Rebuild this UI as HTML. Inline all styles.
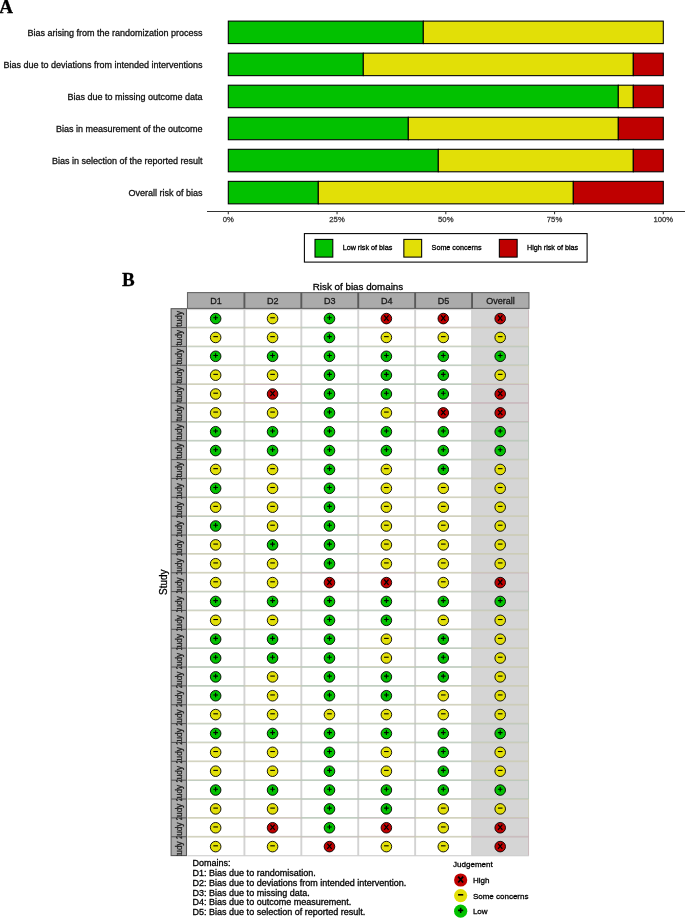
<!DOCTYPE html>
<html><head><meta charset="utf-8"><title>Risk of bias</title>
<style>html,body{margin:0;padding:0;background:#fff;}body{width:685px;height:919px;overflow:hidden;font-family:"Liberation Sans",sans-serif;}svg{display:block;will-change:transform;}</style>
</head><body>
<svg width="685" height="919" viewBox="0 0 685 919"><text x="-0.7" y="13.1" font-family="Liberation Serif, serif" font-weight="bold" font-size="19" fill="#000" stroke="#000" stroke-width="0.3">A</text>
<text x="202.6" y="35.75" font-family="Liberation Sans, sans-serif" font-size="9" fill="#111" stroke="#111" stroke-width="0.3" text-anchor="end">Bias arising from the randomization process</text>
<rect x="228.30" y="21.10" width="195.00" height="22.50" fill="#02C100" stroke="#000" stroke-width="1.07"/>
<rect x="423.30" y="21.10" width="240.00" height="22.50" fill="#E2DF07" stroke="#000" stroke-width="1.07"/>
<text x="202.6" y="67.80" font-family="Liberation Sans, sans-serif" font-size="9" fill="#111" stroke="#111" stroke-width="0.3" text-anchor="end">Bias due to deviations from intended interventions</text>
<rect x="228.30" y="53.15" width="135.00" height="22.50" fill="#02C100" stroke="#000" stroke-width="1.07"/>
<rect x="363.30" y="53.15" width="270.00" height="22.50" fill="#E2DF07" stroke="#000" stroke-width="1.07"/>
<rect x="633.30" y="53.15" width="30.00" height="22.50" fill="#BF0000" stroke="#000" stroke-width="1.07"/>
<text x="202.6" y="99.85" font-family="Liberation Sans, sans-serif" font-size="9" fill="#111" stroke="#111" stroke-width="0.3" text-anchor="end">Bias due to missing outcome data</text>
<rect x="228.30" y="85.20" width="390.00" height="22.50" fill="#02C100" stroke="#000" stroke-width="1.07"/>
<rect x="618.30" y="85.20" width="15.00" height="22.50" fill="#E2DF07" stroke="#000" stroke-width="1.07"/>
<rect x="633.30" y="85.20" width="30.00" height="22.50" fill="#BF0000" stroke="#000" stroke-width="1.07"/>
<text x="202.6" y="131.90" font-family="Liberation Sans, sans-serif" font-size="9" fill="#111" stroke="#111" stroke-width="0.3" text-anchor="end">Bias in measurement of the outcome</text>
<rect x="228.30" y="117.25" width="180.00" height="22.50" fill="#02C100" stroke="#000" stroke-width="1.07"/>
<rect x="408.30" y="117.25" width="210.00" height="22.50" fill="#E2DF07" stroke="#000" stroke-width="1.07"/>
<rect x="618.30" y="117.25" width="45.00" height="22.50" fill="#BF0000" stroke="#000" stroke-width="1.07"/>
<text x="202.6" y="163.95" font-family="Liberation Sans, sans-serif" font-size="9" fill="#111" stroke="#111" stroke-width="0.3" text-anchor="end">Bias in selection of the reported result</text>
<rect x="228.30" y="149.30" width="210.00" height="22.50" fill="#02C100" stroke="#000" stroke-width="1.07"/>
<rect x="438.30" y="149.30" width="195.00" height="22.50" fill="#E2DF07" stroke="#000" stroke-width="1.07"/>
<rect x="633.30" y="149.30" width="30.00" height="22.50" fill="#BF0000" stroke="#000" stroke-width="1.07"/>
<text x="202.6" y="196.00" font-family="Liberation Sans, sans-serif" font-size="9" fill="#111" stroke="#111" stroke-width="0.3" text-anchor="end">Overall risk of bias</text>
<rect x="228.30" y="181.35" width="90.00" height="22.50" fill="#02C100" stroke="#000" stroke-width="1.07"/>
<rect x="318.30" y="181.35" width="255.00" height="22.50" fill="#E2DF07" stroke="#000" stroke-width="1.07"/>
<rect x="573.30" y="181.35" width="90.00" height="22.50" fill="#BF0000" stroke="#000" stroke-width="1.07"/>
<line x1="207" y1="211.5" x2="685" y2="211.5" stroke="#333" stroke-width="1.07"/>
<line x1="228.30" y1="211.5" x2="228.30" y2="214.2" stroke="#333" stroke-width="1.07"/>
<text x="228.30" y="222" font-family="Liberation Sans, sans-serif" font-size="7.7" fill="#3a3a3a" stroke="#3a3a3a" stroke-width="0.3" text-anchor="middle">0%</text>
<line x1="337.05" y1="211.5" x2="337.05" y2="214.2" stroke="#333" stroke-width="1.07"/>
<text x="337.05" y="222" font-family="Liberation Sans, sans-serif" font-size="7.7" fill="#3a3a3a" stroke="#3a3a3a" stroke-width="0.3" text-anchor="middle">25%</text>
<line x1="445.80" y1="211.5" x2="445.80" y2="214.2" stroke="#333" stroke-width="1.07"/>
<text x="445.80" y="222" font-family="Liberation Sans, sans-serif" font-size="7.7" fill="#3a3a3a" stroke="#3a3a3a" stroke-width="0.3" text-anchor="middle">50%</text>
<line x1="554.55" y1="211.5" x2="554.55" y2="214.2" stroke="#333" stroke-width="1.07"/>
<text x="554.55" y="222" font-family="Liberation Sans, sans-serif" font-size="7.7" fill="#3a3a3a" stroke="#3a3a3a" stroke-width="0.3" text-anchor="middle">75%</text>
<line x1="663.30" y1="211.5" x2="663.30" y2="214.2" stroke="#333" stroke-width="1.07"/>
<text x="663.30" y="222" font-family="Liberation Sans, sans-serif" font-size="7.7" fill="#3a3a3a" stroke="#3a3a3a" stroke-width="0.3" text-anchor="middle">100%</text>
<rect x="304.4" y="233.6" width="282.7" height="28.5" fill="#fff" stroke="#000" stroke-width="1.07"/>
<rect x="315.0" y="239.4" width="17.8" height="17.7" fill="#02C100" stroke="#000" stroke-width="1.07"/>
<text x="342.7" y="250.2" font-family="Liberation Sans, sans-serif" font-size="7.2" fill="#000" stroke="#000" stroke-width="0.3">Low risk of bias</text>
<rect x="403.85" y="239.4" width="17.8" height="17.7" fill="#E2DF07" stroke="#000" stroke-width="1.07"/>
<text x="431.6" y="250.2" font-family="Liberation Sans, sans-serif" font-size="7.2" fill="#000" stroke="#000" stroke-width="0.3">Some concerns</text>
<rect x="499.35" y="239.4" width="17.8" height="17.7" fill="#BF0000" stroke="#000" stroke-width="1.07"/>
<text x="527.0" y="250.2" font-family="Liberation Sans, sans-serif" font-size="7.2" fill="#000" stroke="#000" stroke-width="0.3">High risk of bias</text>
<text x="122" y="286" font-family="Liberation Serif, serif" font-weight="bold" font-size="19" fill="#000" stroke="#000" stroke-width="0.3">B</text>
<text x="358" y="289.8" font-family="Liberation Sans, sans-serif" font-size="9.8" fill="#000" stroke="#000" stroke-width="0.3" text-anchor="middle">Risk of bias domains</text>
<rect x="187.5" y="308.7" width="284.55" height="546.90" fill="#fff"/>
<rect x="472.05" y="308.7" width="56.91" height="546.90" fill="#d5d5d5"/>
<line x1="244.41" y1="308.7" x2="244.41" y2="855.60" stroke="#d3d3d3" stroke-width="1.9"/>
<line x1="301.32" y1="308.7" x2="301.32" y2="855.60" stroke="#d3d3d3" stroke-width="1.9"/>
<line x1="358.23" y1="308.7" x2="358.23" y2="855.60" stroke="#d3d3d3" stroke-width="1.9"/>
<line x1="415.14" y1="308.7" x2="415.14" y2="855.60" stroke="#d3d3d3" stroke-width="1.9"/>
<line x1="472.05" y1="308.7" x2="472.05" y2="855.60" stroke="#d3d3d3" stroke-width="1.9"/>
<line x1="187.50" y1="327.21" x2="244.41" y2="327.21" stroke="#b8c6b8" stroke-width="0.85"/>
<line x1="244.41" y1="327.21" x2="301.32" y2="327.21" stroke="#cbcbb4" stroke-width="0.85"/>
<line x1="301.32" y1="327.21" x2="358.23" y2="327.21" stroke="#b8c6b8" stroke-width="0.85"/>
<line x1="358.23" y1="327.21" x2="415.14" y2="327.21" stroke="#c9b7ba" stroke-width="0.85"/>
<line x1="415.14" y1="327.21" x2="472.05" y2="327.21" stroke="#c9b7ba" stroke-width="0.85"/>
<line x1="472.05" y1="327.21" x2="528.96" y2="327.21" stroke="#c9b7ba" stroke-width="0.85"/>
<line x1="187.50" y1="327.91" x2="244.41" y2="327.91" stroke="#cbcbb4" stroke-width="0.85"/>
<line x1="187.50" y1="346.07" x2="244.41" y2="346.07" stroke="#cbcbb4" stroke-width="0.85"/>
<line x1="244.41" y1="327.91" x2="301.32" y2="327.91" stroke="#cbcbb4" stroke-width="0.85"/>
<line x1="244.41" y1="346.07" x2="301.32" y2="346.07" stroke="#cbcbb4" stroke-width="0.85"/>
<line x1="301.32" y1="327.91" x2="358.23" y2="327.91" stroke="#b8c6b8" stroke-width="0.85"/>
<line x1="301.32" y1="346.07" x2="358.23" y2="346.07" stroke="#b8c6b8" stroke-width="0.85"/>
<line x1="358.23" y1="327.91" x2="415.14" y2="327.91" stroke="#cbcbb4" stroke-width="0.85"/>
<line x1="358.23" y1="346.07" x2="415.14" y2="346.07" stroke="#cbcbb4" stroke-width="0.85"/>
<line x1="415.14" y1="327.91" x2="472.05" y2="327.91" stroke="#cbcbb4" stroke-width="0.85"/>
<line x1="415.14" y1="346.07" x2="472.05" y2="346.07" stroke="#cbcbb4" stroke-width="0.85"/>
<line x1="472.05" y1="327.91" x2="528.96" y2="327.91" stroke="#cbcbb4" stroke-width="0.85"/>
<line x1="472.05" y1="346.07" x2="528.96" y2="346.07" stroke="#cbcbb4" stroke-width="0.85"/>
<line x1="187.50" y1="346.77" x2="244.41" y2="346.77" stroke="#b8c6b8" stroke-width="0.85"/>
<line x1="187.50" y1="364.93" x2="244.41" y2="364.93" stroke="#b8c6b8" stroke-width="0.85"/>
<line x1="244.41" y1="346.77" x2="301.32" y2="346.77" stroke="#b8c6b8" stroke-width="0.85"/>
<line x1="244.41" y1="364.93" x2="301.32" y2="364.93" stroke="#b8c6b8" stroke-width="0.85"/>
<line x1="301.32" y1="346.77" x2="358.23" y2="346.77" stroke="#b8c6b8" stroke-width="0.85"/>
<line x1="301.32" y1="364.93" x2="358.23" y2="364.93" stroke="#b8c6b8" stroke-width="0.85"/>
<line x1="358.23" y1="346.77" x2="415.14" y2="346.77" stroke="#b8c6b8" stroke-width="0.85"/>
<line x1="358.23" y1="364.93" x2="415.14" y2="364.93" stroke="#b8c6b8" stroke-width="0.85"/>
<line x1="415.14" y1="346.77" x2="472.05" y2="346.77" stroke="#b8c6b8" stroke-width="0.85"/>
<line x1="415.14" y1="364.93" x2="472.05" y2="364.93" stroke="#b8c6b8" stroke-width="0.85"/>
<line x1="472.05" y1="346.77" x2="528.96" y2="346.77" stroke="#b8c6b8" stroke-width="0.85"/>
<line x1="472.05" y1="364.93" x2="528.96" y2="364.93" stroke="#b8c6b8" stroke-width="0.85"/>
<line x1="187.50" y1="365.63" x2="244.41" y2="365.63" stroke="#cbcbb4" stroke-width="0.85"/>
<line x1="187.50" y1="383.78" x2="244.41" y2="383.78" stroke="#cbcbb4" stroke-width="0.85"/>
<line x1="244.41" y1="365.63" x2="301.32" y2="365.63" stroke="#cbcbb4" stroke-width="0.85"/>
<line x1="244.41" y1="383.78" x2="301.32" y2="383.78" stroke="#cbcbb4" stroke-width="0.85"/>
<line x1="301.32" y1="365.63" x2="358.23" y2="365.63" stroke="#b8c6b8" stroke-width="0.85"/>
<line x1="301.32" y1="383.78" x2="358.23" y2="383.78" stroke="#b8c6b8" stroke-width="0.85"/>
<line x1="358.23" y1="365.63" x2="415.14" y2="365.63" stroke="#b8c6b8" stroke-width="0.85"/>
<line x1="358.23" y1="383.78" x2="415.14" y2="383.78" stroke="#b8c6b8" stroke-width="0.85"/>
<line x1="415.14" y1="365.63" x2="472.05" y2="365.63" stroke="#b8c6b8" stroke-width="0.85"/>
<line x1="415.14" y1="383.78" x2="472.05" y2="383.78" stroke="#b8c6b8" stroke-width="0.85"/>
<line x1="472.05" y1="365.63" x2="528.96" y2="365.63" stroke="#cbcbb4" stroke-width="0.85"/>
<line x1="472.05" y1="383.78" x2="528.96" y2="383.78" stroke="#cbcbb4" stroke-width="0.85"/>
<line x1="187.50" y1="384.48" x2="244.41" y2="384.48" stroke="#cbcbb4" stroke-width="0.85"/>
<line x1="187.50" y1="402.64" x2="244.41" y2="402.64" stroke="#cbcbb4" stroke-width="0.85"/>
<line x1="244.41" y1="384.48" x2="301.32" y2="384.48" stroke="#c9b7ba" stroke-width="0.85"/>
<line x1="244.41" y1="402.64" x2="301.32" y2="402.64" stroke="#c9b7ba" stroke-width="0.85"/>
<line x1="301.32" y1="384.48" x2="358.23" y2="384.48" stroke="#b8c6b8" stroke-width="0.85"/>
<line x1="301.32" y1="402.64" x2="358.23" y2="402.64" stroke="#b8c6b8" stroke-width="0.85"/>
<line x1="358.23" y1="384.48" x2="415.14" y2="384.48" stroke="#b8c6b8" stroke-width="0.85"/>
<line x1="358.23" y1="402.64" x2="415.14" y2="402.64" stroke="#b8c6b8" stroke-width="0.85"/>
<line x1="415.14" y1="384.48" x2="472.05" y2="384.48" stroke="#b8c6b8" stroke-width="0.85"/>
<line x1="415.14" y1="402.64" x2="472.05" y2="402.64" stroke="#b8c6b8" stroke-width="0.85"/>
<line x1="472.05" y1="384.48" x2="528.96" y2="384.48" stroke="#c9b7ba" stroke-width="0.85"/>
<line x1="472.05" y1="402.64" x2="528.96" y2="402.64" stroke="#c9b7ba" stroke-width="0.85"/>
<line x1="187.50" y1="403.34" x2="244.41" y2="403.34" stroke="#cbcbb4" stroke-width="0.85"/>
<line x1="187.50" y1="421.50" x2="244.41" y2="421.50" stroke="#cbcbb4" stroke-width="0.85"/>
<line x1="244.41" y1="403.34" x2="301.32" y2="403.34" stroke="#cbcbb4" stroke-width="0.85"/>
<line x1="244.41" y1="421.50" x2="301.32" y2="421.50" stroke="#cbcbb4" stroke-width="0.85"/>
<line x1="301.32" y1="403.34" x2="358.23" y2="403.34" stroke="#b8c6b8" stroke-width="0.85"/>
<line x1="301.32" y1="421.50" x2="358.23" y2="421.50" stroke="#b8c6b8" stroke-width="0.85"/>
<line x1="358.23" y1="403.34" x2="415.14" y2="403.34" stroke="#cbcbb4" stroke-width="0.85"/>
<line x1="358.23" y1="421.50" x2="415.14" y2="421.50" stroke="#cbcbb4" stroke-width="0.85"/>
<line x1="415.14" y1="403.34" x2="472.05" y2="403.34" stroke="#c9b7ba" stroke-width="0.85"/>
<line x1="415.14" y1="421.50" x2="472.05" y2="421.50" stroke="#c9b7ba" stroke-width="0.85"/>
<line x1="472.05" y1="403.34" x2="528.96" y2="403.34" stroke="#c9b7ba" stroke-width="0.85"/>
<line x1="472.05" y1="421.50" x2="528.96" y2="421.50" stroke="#c9b7ba" stroke-width="0.85"/>
<line x1="187.50" y1="422.20" x2="244.41" y2="422.20" stroke="#b8c6b8" stroke-width="0.85"/>
<line x1="187.50" y1="440.36" x2="244.41" y2="440.36" stroke="#b8c6b8" stroke-width="0.85"/>
<line x1="244.41" y1="422.20" x2="301.32" y2="422.20" stroke="#b8c6b8" stroke-width="0.85"/>
<line x1="244.41" y1="440.36" x2="301.32" y2="440.36" stroke="#b8c6b8" stroke-width="0.85"/>
<line x1="301.32" y1="422.20" x2="358.23" y2="422.20" stroke="#b8c6b8" stroke-width="0.85"/>
<line x1="301.32" y1="440.36" x2="358.23" y2="440.36" stroke="#b8c6b8" stroke-width="0.85"/>
<line x1="358.23" y1="422.20" x2="415.14" y2="422.20" stroke="#b8c6b8" stroke-width="0.85"/>
<line x1="358.23" y1="440.36" x2="415.14" y2="440.36" stroke="#b8c6b8" stroke-width="0.85"/>
<line x1="415.14" y1="422.20" x2="472.05" y2="422.20" stroke="#b8c6b8" stroke-width="0.85"/>
<line x1="415.14" y1="440.36" x2="472.05" y2="440.36" stroke="#b8c6b8" stroke-width="0.85"/>
<line x1="472.05" y1="422.20" x2="528.96" y2="422.20" stroke="#b8c6b8" stroke-width="0.85"/>
<line x1="472.05" y1="440.36" x2="528.96" y2="440.36" stroke="#b8c6b8" stroke-width="0.85"/>
<line x1="187.50" y1="441.06" x2="244.41" y2="441.06" stroke="#b8c6b8" stroke-width="0.85"/>
<line x1="187.50" y1="459.22" x2="244.41" y2="459.22" stroke="#b8c6b8" stroke-width="0.85"/>
<line x1="244.41" y1="441.06" x2="301.32" y2="441.06" stroke="#b8c6b8" stroke-width="0.85"/>
<line x1="244.41" y1="459.22" x2="301.32" y2="459.22" stroke="#b8c6b8" stroke-width="0.85"/>
<line x1="301.32" y1="441.06" x2="358.23" y2="441.06" stroke="#b8c6b8" stroke-width="0.85"/>
<line x1="301.32" y1="459.22" x2="358.23" y2="459.22" stroke="#b8c6b8" stroke-width="0.85"/>
<line x1="358.23" y1="441.06" x2="415.14" y2="441.06" stroke="#b8c6b8" stroke-width="0.85"/>
<line x1="358.23" y1="459.22" x2="415.14" y2="459.22" stroke="#b8c6b8" stroke-width="0.85"/>
<line x1="415.14" y1="441.06" x2="472.05" y2="441.06" stroke="#b8c6b8" stroke-width="0.85"/>
<line x1="415.14" y1="459.22" x2="472.05" y2="459.22" stroke="#b8c6b8" stroke-width="0.85"/>
<line x1="472.05" y1="441.06" x2="528.96" y2="441.06" stroke="#b8c6b8" stroke-width="0.85"/>
<line x1="472.05" y1="459.22" x2="528.96" y2="459.22" stroke="#b8c6b8" stroke-width="0.85"/>
<line x1="187.50" y1="459.92" x2="244.41" y2="459.92" stroke="#cbcbb4" stroke-width="0.85"/>
<line x1="187.50" y1="478.08" x2="244.41" y2="478.08" stroke="#cbcbb4" stroke-width="0.85"/>
<line x1="244.41" y1="459.92" x2="301.32" y2="459.92" stroke="#cbcbb4" stroke-width="0.85"/>
<line x1="244.41" y1="478.08" x2="301.32" y2="478.08" stroke="#cbcbb4" stroke-width="0.85"/>
<line x1="301.32" y1="459.92" x2="358.23" y2="459.92" stroke="#b8c6b8" stroke-width="0.85"/>
<line x1="301.32" y1="478.08" x2="358.23" y2="478.08" stroke="#b8c6b8" stroke-width="0.85"/>
<line x1="358.23" y1="459.92" x2="415.14" y2="459.92" stroke="#cbcbb4" stroke-width="0.85"/>
<line x1="358.23" y1="478.08" x2="415.14" y2="478.08" stroke="#cbcbb4" stroke-width="0.85"/>
<line x1="415.14" y1="459.92" x2="472.05" y2="459.92" stroke="#b8c6b8" stroke-width="0.85"/>
<line x1="415.14" y1="478.08" x2="472.05" y2="478.08" stroke="#b8c6b8" stroke-width="0.85"/>
<line x1="472.05" y1="459.92" x2="528.96" y2="459.92" stroke="#cbcbb4" stroke-width="0.85"/>
<line x1="472.05" y1="478.08" x2="528.96" y2="478.08" stroke="#cbcbb4" stroke-width="0.85"/>
<line x1="187.50" y1="478.78" x2="244.41" y2="478.78" stroke="#b8c6b8" stroke-width="0.85"/>
<line x1="187.50" y1="496.94" x2="244.41" y2="496.94" stroke="#b8c6b8" stroke-width="0.85"/>
<line x1="244.41" y1="478.78" x2="301.32" y2="478.78" stroke="#cbcbb4" stroke-width="0.85"/>
<line x1="244.41" y1="496.94" x2="301.32" y2="496.94" stroke="#cbcbb4" stroke-width="0.85"/>
<line x1="301.32" y1="478.78" x2="358.23" y2="478.78" stroke="#b8c6b8" stroke-width="0.85"/>
<line x1="301.32" y1="496.94" x2="358.23" y2="496.94" stroke="#b8c6b8" stroke-width="0.85"/>
<line x1="358.23" y1="478.78" x2="415.14" y2="478.78" stroke="#cbcbb4" stroke-width="0.85"/>
<line x1="358.23" y1="496.94" x2="415.14" y2="496.94" stroke="#cbcbb4" stroke-width="0.85"/>
<line x1="415.14" y1="478.78" x2="472.05" y2="478.78" stroke="#cbcbb4" stroke-width="0.85"/>
<line x1="415.14" y1="496.94" x2="472.05" y2="496.94" stroke="#cbcbb4" stroke-width="0.85"/>
<line x1="472.05" y1="478.78" x2="528.96" y2="478.78" stroke="#cbcbb4" stroke-width="0.85"/>
<line x1="472.05" y1="496.94" x2="528.96" y2="496.94" stroke="#cbcbb4" stroke-width="0.85"/>
<line x1="187.50" y1="497.64" x2="244.41" y2="497.64" stroke="#cbcbb4" stroke-width="0.85"/>
<line x1="187.50" y1="515.79" x2="244.41" y2="515.79" stroke="#cbcbb4" stroke-width="0.85"/>
<line x1="244.41" y1="497.64" x2="301.32" y2="497.64" stroke="#cbcbb4" stroke-width="0.85"/>
<line x1="244.41" y1="515.79" x2="301.32" y2="515.79" stroke="#cbcbb4" stroke-width="0.85"/>
<line x1="301.32" y1="497.64" x2="358.23" y2="497.64" stroke="#b8c6b8" stroke-width="0.85"/>
<line x1="301.32" y1="515.79" x2="358.23" y2="515.79" stroke="#b8c6b8" stroke-width="0.85"/>
<line x1="358.23" y1="497.64" x2="415.14" y2="497.64" stroke="#cbcbb4" stroke-width="0.85"/>
<line x1="358.23" y1="515.79" x2="415.14" y2="515.79" stroke="#cbcbb4" stroke-width="0.85"/>
<line x1="415.14" y1="497.64" x2="472.05" y2="497.64" stroke="#cbcbb4" stroke-width="0.85"/>
<line x1="415.14" y1="515.79" x2="472.05" y2="515.79" stroke="#cbcbb4" stroke-width="0.85"/>
<line x1="472.05" y1="497.64" x2="528.96" y2="497.64" stroke="#cbcbb4" stroke-width="0.85"/>
<line x1="472.05" y1="515.79" x2="528.96" y2="515.79" stroke="#cbcbb4" stroke-width="0.85"/>
<line x1="187.50" y1="516.49" x2="244.41" y2="516.49" stroke="#b8c6b8" stroke-width="0.85"/>
<line x1="187.50" y1="534.65" x2="244.41" y2="534.65" stroke="#b8c6b8" stroke-width="0.85"/>
<line x1="244.41" y1="516.49" x2="301.32" y2="516.49" stroke="#cbcbb4" stroke-width="0.85"/>
<line x1="244.41" y1="534.65" x2="301.32" y2="534.65" stroke="#cbcbb4" stroke-width="0.85"/>
<line x1="301.32" y1="516.49" x2="358.23" y2="516.49" stroke="#b8c6b8" stroke-width="0.85"/>
<line x1="301.32" y1="534.65" x2="358.23" y2="534.65" stroke="#b8c6b8" stroke-width="0.85"/>
<line x1="358.23" y1="516.49" x2="415.14" y2="516.49" stroke="#cbcbb4" stroke-width="0.85"/>
<line x1="358.23" y1="534.65" x2="415.14" y2="534.65" stroke="#cbcbb4" stroke-width="0.85"/>
<line x1="415.14" y1="516.49" x2="472.05" y2="516.49" stroke="#cbcbb4" stroke-width="0.85"/>
<line x1="415.14" y1="534.65" x2="472.05" y2="534.65" stroke="#cbcbb4" stroke-width="0.85"/>
<line x1="472.05" y1="516.49" x2="528.96" y2="516.49" stroke="#cbcbb4" stroke-width="0.85"/>
<line x1="472.05" y1="534.65" x2="528.96" y2="534.65" stroke="#cbcbb4" stroke-width="0.85"/>
<line x1="187.50" y1="535.35" x2="244.41" y2="535.35" stroke="#cbcbb4" stroke-width="0.85"/>
<line x1="187.50" y1="553.51" x2="244.41" y2="553.51" stroke="#cbcbb4" stroke-width="0.85"/>
<line x1="244.41" y1="535.35" x2="301.32" y2="535.35" stroke="#b8c6b8" stroke-width="0.85"/>
<line x1="244.41" y1="553.51" x2="301.32" y2="553.51" stroke="#b8c6b8" stroke-width="0.85"/>
<line x1="301.32" y1="535.35" x2="358.23" y2="535.35" stroke="#b8c6b8" stroke-width="0.85"/>
<line x1="301.32" y1="553.51" x2="358.23" y2="553.51" stroke="#b8c6b8" stroke-width="0.85"/>
<line x1="358.23" y1="535.35" x2="415.14" y2="535.35" stroke="#cbcbb4" stroke-width="0.85"/>
<line x1="358.23" y1="553.51" x2="415.14" y2="553.51" stroke="#cbcbb4" stroke-width="0.85"/>
<line x1="415.14" y1="535.35" x2="472.05" y2="535.35" stroke="#cbcbb4" stroke-width="0.85"/>
<line x1="415.14" y1="553.51" x2="472.05" y2="553.51" stroke="#cbcbb4" stroke-width="0.85"/>
<line x1="472.05" y1="535.35" x2="528.96" y2="535.35" stroke="#cbcbb4" stroke-width="0.85"/>
<line x1="472.05" y1="553.51" x2="528.96" y2="553.51" stroke="#cbcbb4" stroke-width="0.85"/>
<line x1="187.50" y1="554.21" x2="244.41" y2="554.21" stroke="#cbcbb4" stroke-width="0.85"/>
<line x1="187.50" y1="572.37" x2="244.41" y2="572.37" stroke="#cbcbb4" stroke-width="0.85"/>
<line x1="244.41" y1="554.21" x2="301.32" y2="554.21" stroke="#cbcbb4" stroke-width="0.85"/>
<line x1="244.41" y1="572.37" x2="301.32" y2="572.37" stroke="#cbcbb4" stroke-width="0.85"/>
<line x1="301.32" y1="554.21" x2="358.23" y2="554.21" stroke="#b8c6b8" stroke-width="0.85"/>
<line x1="301.32" y1="572.37" x2="358.23" y2="572.37" stroke="#b8c6b8" stroke-width="0.85"/>
<line x1="358.23" y1="554.21" x2="415.14" y2="554.21" stroke="#cbcbb4" stroke-width="0.85"/>
<line x1="358.23" y1="572.37" x2="415.14" y2="572.37" stroke="#cbcbb4" stroke-width="0.85"/>
<line x1="415.14" y1="554.21" x2="472.05" y2="554.21" stroke="#cbcbb4" stroke-width="0.85"/>
<line x1="415.14" y1="572.37" x2="472.05" y2="572.37" stroke="#cbcbb4" stroke-width="0.85"/>
<line x1="472.05" y1="554.21" x2="528.96" y2="554.21" stroke="#cbcbb4" stroke-width="0.85"/>
<line x1="472.05" y1="572.37" x2="528.96" y2="572.37" stroke="#cbcbb4" stroke-width="0.85"/>
<line x1="187.50" y1="573.07" x2="244.41" y2="573.07" stroke="#cbcbb4" stroke-width="0.85"/>
<line x1="187.50" y1="591.23" x2="244.41" y2="591.23" stroke="#cbcbb4" stroke-width="0.85"/>
<line x1="244.41" y1="573.07" x2="301.32" y2="573.07" stroke="#cbcbb4" stroke-width="0.85"/>
<line x1="244.41" y1="591.23" x2="301.32" y2="591.23" stroke="#cbcbb4" stroke-width="0.85"/>
<line x1="301.32" y1="573.07" x2="358.23" y2="573.07" stroke="#c9b7ba" stroke-width="0.85"/>
<line x1="301.32" y1="591.23" x2="358.23" y2="591.23" stroke="#c9b7ba" stroke-width="0.85"/>
<line x1="358.23" y1="573.07" x2="415.14" y2="573.07" stroke="#c9b7ba" stroke-width="0.85"/>
<line x1="358.23" y1="591.23" x2="415.14" y2="591.23" stroke="#c9b7ba" stroke-width="0.85"/>
<line x1="415.14" y1="573.07" x2="472.05" y2="573.07" stroke="#cbcbb4" stroke-width="0.85"/>
<line x1="415.14" y1="591.23" x2="472.05" y2="591.23" stroke="#cbcbb4" stroke-width="0.85"/>
<line x1="472.05" y1="573.07" x2="528.96" y2="573.07" stroke="#c9b7ba" stroke-width="0.85"/>
<line x1="472.05" y1="591.23" x2="528.96" y2="591.23" stroke="#c9b7ba" stroke-width="0.85"/>
<line x1="187.50" y1="591.93" x2="244.41" y2="591.93" stroke="#b8c6b8" stroke-width="0.85"/>
<line x1="187.50" y1="610.09" x2="244.41" y2="610.09" stroke="#b8c6b8" stroke-width="0.85"/>
<line x1="244.41" y1="591.93" x2="301.32" y2="591.93" stroke="#b8c6b8" stroke-width="0.85"/>
<line x1="244.41" y1="610.09" x2="301.32" y2="610.09" stroke="#b8c6b8" stroke-width="0.85"/>
<line x1="301.32" y1="591.93" x2="358.23" y2="591.93" stroke="#b8c6b8" stroke-width="0.85"/>
<line x1="301.32" y1="610.09" x2="358.23" y2="610.09" stroke="#b8c6b8" stroke-width="0.85"/>
<line x1="358.23" y1="591.93" x2="415.14" y2="591.93" stroke="#b8c6b8" stroke-width="0.85"/>
<line x1="358.23" y1="610.09" x2="415.14" y2="610.09" stroke="#b8c6b8" stroke-width="0.85"/>
<line x1="415.14" y1="591.93" x2="472.05" y2="591.93" stroke="#b8c6b8" stroke-width="0.85"/>
<line x1="415.14" y1="610.09" x2="472.05" y2="610.09" stroke="#b8c6b8" stroke-width="0.85"/>
<line x1="472.05" y1="591.93" x2="528.96" y2="591.93" stroke="#b8c6b8" stroke-width="0.85"/>
<line x1="472.05" y1="610.09" x2="528.96" y2="610.09" stroke="#b8c6b8" stroke-width="0.85"/>
<line x1="187.50" y1="610.79" x2="244.41" y2="610.79" stroke="#cbcbb4" stroke-width="0.85"/>
<line x1="187.50" y1="628.95" x2="244.41" y2="628.95" stroke="#cbcbb4" stroke-width="0.85"/>
<line x1="244.41" y1="610.79" x2="301.32" y2="610.79" stroke="#cbcbb4" stroke-width="0.85"/>
<line x1="244.41" y1="628.95" x2="301.32" y2="628.95" stroke="#cbcbb4" stroke-width="0.85"/>
<line x1="301.32" y1="610.79" x2="358.23" y2="610.79" stroke="#b8c6b8" stroke-width="0.85"/>
<line x1="301.32" y1="628.95" x2="358.23" y2="628.95" stroke="#b8c6b8" stroke-width="0.85"/>
<line x1="358.23" y1="610.79" x2="415.14" y2="610.79" stroke="#b8c6b8" stroke-width="0.85"/>
<line x1="358.23" y1="628.95" x2="415.14" y2="628.95" stroke="#b8c6b8" stroke-width="0.85"/>
<line x1="415.14" y1="610.79" x2="472.05" y2="610.79" stroke="#cbcbb4" stroke-width="0.85"/>
<line x1="415.14" y1="628.95" x2="472.05" y2="628.95" stroke="#cbcbb4" stroke-width="0.85"/>
<line x1="472.05" y1="610.79" x2="528.96" y2="610.79" stroke="#cbcbb4" stroke-width="0.85"/>
<line x1="472.05" y1="628.95" x2="528.96" y2="628.95" stroke="#cbcbb4" stroke-width="0.85"/>
<line x1="187.50" y1="629.65" x2="244.41" y2="629.65" stroke="#b8c6b8" stroke-width="0.85"/>
<line x1="187.50" y1="647.81" x2="244.41" y2="647.81" stroke="#b8c6b8" stroke-width="0.85"/>
<line x1="244.41" y1="629.65" x2="301.32" y2="629.65" stroke="#b8c6b8" stroke-width="0.85"/>
<line x1="244.41" y1="647.81" x2="301.32" y2="647.81" stroke="#b8c6b8" stroke-width="0.85"/>
<line x1="301.32" y1="629.65" x2="358.23" y2="629.65" stroke="#b8c6b8" stroke-width="0.85"/>
<line x1="301.32" y1="647.81" x2="358.23" y2="647.81" stroke="#b8c6b8" stroke-width="0.85"/>
<line x1="358.23" y1="629.65" x2="415.14" y2="629.65" stroke="#cbcbb4" stroke-width="0.85"/>
<line x1="358.23" y1="647.81" x2="415.14" y2="647.81" stroke="#cbcbb4" stroke-width="0.85"/>
<line x1="415.14" y1="629.65" x2="472.05" y2="629.65" stroke="#b8c6b8" stroke-width="0.85"/>
<line x1="415.14" y1="647.81" x2="472.05" y2="647.81" stroke="#b8c6b8" stroke-width="0.85"/>
<line x1="472.05" y1="629.65" x2="528.96" y2="629.65" stroke="#cbcbb4" stroke-width="0.85"/>
<line x1="472.05" y1="647.81" x2="528.96" y2="647.81" stroke="#cbcbb4" stroke-width="0.85"/>
<line x1="187.50" y1="648.51" x2="244.41" y2="648.51" stroke="#b8c6b8" stroke-width="0.85"/>
<line x1="187.50" y1="666.66" x2="244.41" y2="666.66" stroke="#b8c6b8" stroke-width="0.85"/>
<line x1="244.41" y1="648.51" x2="301.32" y2="648.51" stroke="#b8c6b8" stroke-width="0.85"/>
<line x1="244.41" y1="666.66" x2="301.32" y2="666.66" stroke="#b8c6b8" stroke-width="0.85"/>
<line x1="301.32" y1="648.51" x2="358.23" y2="648.51" stroke="#b8c6b8" stroke-width="0.85"/>
<line x1="301.32" y1="666.66" x2="358.23" y2="666.66" stroke="#b8c6b8" stroke-width="0.85"/>
<line x1="358.23" y1="648.51" x2="415.14" y2="648.51" stroke="#cbcbb4" stroke-width="0.85"/>
<line x1="358.23" y1="666.66" x2="415.14" y2="666.66" stroke="#cbcbb4" stroke-width="0.85"/>
<line x1="415.14" y1="648.51" x2="472.05" y2="648.51" stroke="#b8c6b8" stroke-width="0.85"/>
<line x1="415.14" y1="666.66" x2="472.05" y2="666.66" stroke="#b8c6b8" stroke-width="0.85"/>
<line x1="472.05" y1="648.51" x2="528.96" y2="648.51" stroke="#cbcbb4" stroke-width="0.85"/>
<line x1="472.05" y1="666.66" x2="528.96" y2="666.66" stroke="#cbcbb4" stroke-width="0.85"/>
<line x1="187.50" y1="667.36" x2="244.41" y2="667.36" stroke="#b8c6b8" stroke-width="0.85"/>
<line x1="187.50" y1="685.52" x2="244.41" y2="685.52" stroke="#b8c6b8" stroke-width="0.85"/>
<line x1="244.41" y1="667.36" x2="301.32" y2="667.36" stroke="#cbcbb4" stroke-width="0.85"/>
<line x1="244.41" y1="685.52" x2="301.32" y2="685.52" stroke="#cbcbb4" stroke-width="0.85"/>
<line x1="301.32" y1="667.36" x2="358.23" y2="667.36" stroke="#b8c6b8" stroke-width="0.85"/>
<line x1="301.32" y1="685.52" x2="358.23" y2="685.52" stroke="#b8c6b8" stroke-width="0.85"/>
<line x1="358.23" y1="667.36" x2="415.14" y2="667.36" stroke="#b8c6b8" stroke-width="0.85"/>
<line x1="358.23" y1="685.52" x2="415.14" y2="685.52" stroke="#b8c6b8" stroke-width="0.85"/>
<line x1="415.14" y1="667.36" x2="472.05" y2="667.36" stroke="#b8c6b8" stroke-width="0.85"/>
<line x1="415.14" y1="685.52" x2="472.05" y2="685.52" stroke="#b8c6b8" stroke-width="0.85"/>
<line x1="472.05" y1="667.36" x2="528.96" y2="667.36" stroke="#cbcbb4" stroke-width="0.85"/>
<line x1="472.05" y1="685.52" x2="528.96" y2="685.52" stroke="#cbcbb4" stroke-width="0.85"/>
<line x1="187.50" y1="686.22" x2="244.41" y2="686.22" stroke="#b8c6b8" stroke-width="0.85"/>
<line x1="187.50" y1="704.38" x2="244.41" y2="704.38" stroke="#b8c6b8" stroke-width="0.85"/>
<line x1="244.41" y1="686.22" x2="301.32" y2="686.22" stroke="#cbcbb4" stroke-width="0.85"/>
<line x1="244.41" y1="704.38" x2="301.32" y2="704.38" stroke="#cbcbb4" stroke-width="0.85"/>
<line x1="301.32" y1="686.22" x2="358.23" y2="686.22" stroke="#b8c6b8" stroke-width="0.85"/>
<line x1="301.32" y1="704.38" x2="358.23" y2="704.38" stroke="#b8c6b8" stroke-width="0.85"/>
<line x1="358.23" y1="686.22" x2="415.14" y2="686.22" stroke="#b8c6b8" stroke-width="0.85"/>
<line x1="358.23" y1="704.38" x2="415.14" y2="704.38" stroke="#b8c6b8" stroke-width="0.85"/>
<line x1="415.14" y1="686.22" x2="472.05" y2="686.22" stroke="#cbcbb4" stroke-width="0.85"/>
<line x1="415.14" y1="704.38" x2="472.05" y2="704.38" stroke="#cbcbb4" stroke-width="0.85"/>
<line x1="472.05" y1="686.22" x2="528.96" y2="686.22" stroke="#cbcbb4" stroke-width="0.85"/>
<line x1="472.05" y1="704.38" x2="528.96" y2="704.38" stroke="#cbcbb4" stroke-width="0.85"/>
<line x1="187.50" y1="705.08" x2="244.41" y2="705.08" stroke="#cbcbb4" stroke-width="0.85"/>
<line x1="187.50" y1="723.24" x2="244.41" y2="723.24" stroke="#cbcbb4" stroke-width="0.85"/>
<line x1="244.41" y1="705.08" x2="301.32" y2="705.08" stroke="#cbcbb4" stroke-width="0.85"/>
<line x1="244.41" y1="723.24" x2="301.32" y2="723.24" stroke="#cbcbb4" stroke-width="0.85"/>
<line x1="301.32" y1="705.08" x2="358.23" y2="705.08" stroke="#cbcbb4" stroke-width="0.85"/>
<line x1="301.32" y1="723.24" x2="358.23" y2="723.24" stroke="#cbcbb4" stroke-width="0.85"/>
<line x1="358.23" y1="705.08" x2="415.14" y2="705.08" stroke="#cbcbb4" stroke-width="0.85"/>
<line x1="358.23" y1="723.24" x2="415.14" y2="723.24" stroke="#cbcbb4" stroke-width="0.85"/>
<line x1="415.14" y1="705.08" x2="472.05" y2="705.08" stroke="#cbcbb4" stroke-width="0.85"/>
<line x1="415.14" y1="723.24" x2="472.05" y2="723.24" stroke="#cbcbb4" stroke-width="0.85"/>
<line x1="472.05" y1="705.08" x2="528.96" y2="705.08" stroke="#cbcbb4" stroke-width="0.85"/>
<line x1="472.05" y1="723.24" x2="528.96" y2="723.24" stroke="#cbcbb4" stroke-width="0.85"/>
<line x1="187.50" y1="723.94" x2="244.41" y2="723.94" stroke="#b8c6b8" stroke-width="0.85"/>
<line x1="187.50" y1="742.10" x2="244.41" y2="742.10" stroke="#b8c6b8" stroke-width="0.85"/>
<line x1="244.41" y1="723.94" x2="301.32" y2="723.94" stroke="#b8c6b8" stroke-width="0.85"/>
<line x1="244.41" y1="742.10" x2="301.32" y2="742.10" stroke="#b8c6b8" stroke-width="0.85"/>
<line x1="301.32" y1="723.94" x2="358.23" y2="723.94" stroke="#b8c6b8" stroke-width="0.85"/>
<line x1="301.32" y1="742.10" x2="358.23" y2="742.10" stroke="#b8c6b8" stroke-width="0.85"/>
<line x1="358.23" y1="723.94" x2="415.14" y2="723.94" stroke="#b8c6b8" stroke-width="0.85"/>
<line x1="358.23" y1="742.10" x2="415.14" y2="742.10" stroke="#b8c6b8" stroke-width="0.85"/>
<line x1="415.14" y1="723.94" x2="472.05" y2="723.94" stroke="#b8c6b8" stroke-width="0.85"/>
<line x1="415.14" y1="742.10" x2="472.05" y2="742.10" stroke="#b8c6b8" stroke-width="0.85"/>
<line x1="472.05" y1="723.94" x2="528.96" y2="723.94" stroke="#b8c6b8" stroke-width="0.85"/>
<line x1="472.05" y1="742.10" x2="528.96" y2="742.10" stroke="#b8c6b8" stroke-width="0.85"/>
<line x1="187.50" y1="742.80" x2="244.41" y2="742.80" stroke="#cbcbb4" stroke-width="0.85"/>
<line x1="187.50" y1="760.96" x2="244.41" y2="760.96" stroke="#cbcbb4" stroke-width="0.85"/>
<line x1="244.41" y1="742.80" x2="301.32" y2="742.80" stroke="#cbcbb4" stroke-width="0.85"/>
<line x1="244.41" y1="760.96" x2="301.32" y2="760.96" stroke="#cbcbb4" stroke-width="0.85"/>
<line x1="301.32" y1="742.80" x2="358.23" y2="742.80" stroke="#b8c6b8" stroke-width="0.85"/>
<line x1="301.32" y1="760.96" x2="358.23" y2="760.96" stroke="#b8c6b8" stroke-width="0.85"/>
<line x1="358.23" y1="742.80" x2="415.14" y2="742.80" stroke="#cbcbb4" stroke-width="0.85"/>
<line x1="358.23" y1="760.96" x2="415.14" y2="760.96" stroke="#cbcbb4" stroke-width="0.85"/>
<line x1="415.14" y1="742.80" x2="472.05" y2="742.80" stroke="#b8c6b8" stroke-width="0.85"/>
<line x1="415.14" y1="760.96" x2="472.05" y2="760.96" stroke="#b8c6b8" stroke-width="0.85"/>
<line x1="472.05" y1="742.80" x2="528.96" y2="742.80" stroke="#cbcbb4" stroke-width="0.85"/>
<line x1="472.05" y1="760.96" x2="528.96" y2="760.96" stroke="#cbcbb4" stroke-width="0.85"/>
<line x1="187.50" y1="761.66" x2="244.41" y2="761.66" stroke="#cbcbb4" stroke-width="0.85"/>
<line x1="187.50" y1="779.82" x2="244.41" y2="779.82" stroke="#cbcbb4" stroke-width="0.85"/>
<line x1="244.41" y1="761.66" x2="301.32" y2="761.66" stroke="#cbcbb4" stroke-width="0.85"/>
<line x1="244.41" y1="779.82" x2="301.32" y2="779.82" stroke="#cbcbb4" stroke-width="0.85"/>
<line x1="301.32" y1="761.66" x2="358.23" y2="761.66" stroke="#b8c6b8" stroke-width="0.85"/>
<line x1="301.32" y1="779.82" x2="358.23" y2="779.82" stroke="#b8c6b8" stroke-width="0.85"/>
<line x1="358.23" y1="761.66" x2="415.14" y2="761.66" stroke="#cbcbb4" stroke-width="0.85"/>
<line x1="358.23" y1="779.82" x2="415.14" y2="779.82" stroke="#cbcbb4" stroke-width="0.85"/>
<line x1="415.14" y1="761.66" x2="472.05" y2="761.66" stroke="#b8c6b8" stroke-width="0.85"/>
<line x1="415.14" y1="779.82" x2="472.05" y2="779.82" stroke="#b8c6b8" stroke-width="0.85"/>
<line x1="472.05" y1="761.66" x2="528.96" y2="761.66" stroke="#cbcbb4" stroke-width="0.85"/>
<line x1="472.05" y1="779.82" x2="528.96" y2="779.82" stroke="#cbcbb4" stroke-width="0.85"/>
<line x1="187.50" y1="780.52" x2="244.41" y2="780.52" stroke="#b8c6b8" stroke-width="0.85"/>
<line x1="187.50" y1="798.67" x2="244.41" y2="798.67" stroke="#b8c6b8" stroke-width="0.85"/>
<line x1="244.41" y1="780.52" x2="301.32" y2="780.52" stroke="#b8c6b8" stroke-width="0.85"/>
<line x1="244.41" y1="798.67" x2="301.32" y2="798.67" stroke="#b8c6b8" stroke-width="0.85"/>
<line x1="301.32" y1="780.52" x2="358.23" y2="780.52" stroke="#b8c6b8" stroke-width="0.85"/>
<line x1="301.32" y1="798.67" x2="358.23" y2="798.67" stroke="#b8c6b8" stroke-width="0.85"/>
<line x1="358.23" y1="780.52" x2="415.14" y2="780.52" stroke="#b8c6b8" stroke-width="0.85"/>
<line x1="358.23" y1="798.67" x2="415.14" y2="798.67" stroke="#b8c6b8" stroke-width="0.85"/>
<line x1="415.14" y1="780.52" x2="472.05" y2="780.52" stroke="#b8c6b8" stroke-width="0.85"/>
<line x1="415.14" y1="798.67" x2="472.05" y2="798.67" stroke="#b8c6b8" stroke-width="0.85"/>
<line x1="472.05" y1="780.52" x2="528.96" y2="780.52" stroke="#b8c6b8" stroke-width="0.85"/>
<line x1="472.05" y1="798.67" x2="528.96" y2="798.67" stroke="#b8c6b8" stroke-width="0.85"/>
<line x1="187.50" y1="799.37" x2="244.41" y2="799.37" stroke="#cbcbb4" stroke-width="0.85"/>
<line x1="187.50" y1="817.53" x2="244.41" y2="817.53" stroke="#cbcbb4" stroke-width="0.85"/>
<line x1="244.41" y1="799.37" x2="301.32" y2="799.37" stroke="#cbcbb4" stroke-width="0.85"/>
<line x1="244.41" y1="817.53" x2="301.32" y2="817.53" stroke="#cbcbb4" stroke-width="0.85"/>
<line x1="301.32" y1="799.37" x2="358.23" y2="799.37" stroke="#b8c6b8" stroke-width="0.85"/>
<line x1="301.32" y1="817.53" x2="358.23" y2="817.53" stroke="#b8c6b8" stroke-width="0.85"/>
<line x1="358.23" y1="799.37" x2="415.14" y2="799.37" stroke="#b8c6b8" stroke-width="0.85"/>
<line x1="358.23" y1="817.53" x2="415.14" y2="817.53" stroke="#b8c6b8" stroke-width="0.85"/>
<line x1="415.14" y1="799.37" x2="472.05" y2="799.37" stroke="#cbcbb4" stroke-width="0.85"/>
<line x1="415.14" y1="817.53" x2="472.05" y2="817.53" stroke="#cbcbb4" stroke-width="0.85"/>
<line x1="472.05" y1="799.37" x2="528.96" y2="799.37" stroke="#cbcbb4" stroke-width="0.85"/>
<line x1="472.05" y1="817.53" x2="528.96" y2="817.53" stroke="#cbcbb4" stroke-width="0.85"/>
<line x1="187.50" y1="818.23" x2="244.41" y2="818.23" stroke="#cbcbb4" stroke-width="0.85"/>
<line x1="187.50" y1="836.39" x2="244.41" y2="836.39" stroke="#cbcbb4" stroke-width="0.85"/>
<line x1="244.41" y1="818.23" x2="301.32" y2="818.23" stroke="#c9b7ba" stroke-width="0.85"/>
<line x1="244.41" y1="836.39" x2="301.32" y2="836.39" stroke="#c9b7ba" stroke-width="0.85"/>
<line x1="301.32" y1="818.23" x2="358.23" y2="818.23" stroke="#b8c6b8" stroke-width="0.85"/>
<line x1="301.32" y1="836.39" x2="358.23" y2="836.39" stroke="#b8c6b8" stroke-width="0.85"/>
<line x1="358.23" y1="818.23" x2="415.14" y2="818.23" stroke="#c9b7ba" stroke-width="0.85"/>
<line x1="358.23" y1="836.39" x2="415.14" y2="836.39" stroke="#c9b7ba" stroke-width="0.85"/>
<line x1="415.14" y1="818.23" x2="472.05" y2="818.23" stroke="#cbcbb4" stroke-width="0.85"/>
<line x1="415.14" y1="836.39" x2="472.05" y2="836.39" stroke="#cbcbb4" stroke-width="0.85"/>
<line x1="472.05" y1="818.23" x2="528.96" y2="818.23" stroke="#c9b7ba" stroke-width="0.85"/>
<line x1="472.05" y1="836.39" x2="528.96" y2="836.39" stroke="#c9b7ba" stroke-width="0.85"/>
<line x1="187.50" y1="837.09" x2="244.41" y2="837.09" stroke="#cbcbb4" stroke-width="0.85"/>
<line x1="244.41" y1="837.09" x2="301.32" y2="837.09" stroke="#cbcbb4" stroke-width="0.85"/>
<line x1="301.32" y1="837.09" x2="358.23" y2="837.09" stroke="#c9b7ba" stroke-width="0.85"/>
<line x1="358.23" y1="837.09" x2="415.14" y2="837.09" stroke="#cbcbb4" stroke-width="0.85"/>
<line x1="415.14" y1="837.09" x2="472.05" y2="837.09" stroke="#cbcbb4" stroke-width="0.85"/>
<line x1="472.05" y1="837.09" x2="528.96" y2="837.09" stroke="#c9b7ba" stroke-width="0.85"/>
<line x1="528.56" y1="308.70" x2="528.56" y2="327.56" stroke="#c9b7ba" stroke-width="0.9"/>
<line x1="528.56" y1="327.56" x2="528.56" y2="346.42" stroke="#cbcbb4" stroke-width="0.9"/>
<line x1="528.56" y1="346.42" x2="528.56" y2="365.28" stroke="#b8c6b8" stroke-width="0.9"/>
<line x1="528.56" y1="365.28" x2="528.56" y2="384.13" stroke="#cbcbb4" stroke-width="0.9"/>
<line x1="528.56" y1="384.13" x2="528.56" y2="402.99" stroke="#c9b7ba" stroke-width="0.9"/>
<line x1="528.56" y1="402.99" x2="528.56" y2="421.85" stroke="#c9b7ba" stroke-width="0.9"/>
<line x1="528.56" y1="421.85" x2="528.56" y2="440.71" stroke="#b8c6b8" stroke-width="0.9"/>
<line x1="528.56" y1="440.71" x2="528.56" y2="459.57" stroke="#b8c6b8" stroke-width="0.9"/>
<line x1="528.56" y1="459.57" x2="528.56" y2="478.43" stroke="#cbcbb4" stroke-width="0.9"/>
<line x1="528.56" y1="478.43" x2="528.56" y2="497.29" stroke="#cbcbb4" stroke-width="0.9"/>
<line x1="528.56" y1="497.29" x2="528.56" y2="516.14" stroke="#cbcbb4" stroke-width="0.9"/>
<line x1="528.56" y1="516.14" x2="528.56" y2="535.00" stroke="#cbcbb4" stroke-width="0.9"/>
<line x1="528.56" y1="535.00" x2="528.56" y2="553.86" stroke="#cbcbb4" stroke-width="0.9"/>
<line x1="528.56" y1="553.86" x2="528.56" y2="572.72" stroke="#cbcbb4" stroke-width="0.9"/>
<line x1="528.56" y1="572.72" x2="528.56" y2="591.58" stroke="#c9b7ba" stroke-width="0.9"/>
<line x1="528.56" y1="591.58" x2="528.56" y2="610.44" stroke="#b8c6b8" stroke-width="0.9"/>
<line x1="528.56" y1="610.44" x2="528.56" y2="629.30" stroke="#cbcbb4" stroke-width="0.9"/>
<line x1="528.56" y1="629.30" x2="528.56" y2="648.16" stroke="#cbcbb4" stroke-width="0.9"/>
<line x1="528.56" y1="648.16" x2="528.56" y2="667.01" stroke="#cbcbb4" stroke-width="0.9"/>
<line x1="528.56" y1="667.01" x2="528.56" y2="685.87" stroke="#cbcbb4" stroke-width="0.9"/>
<line x1="528.56" y1="685.87" x2="528.56" y2="704.73" stroke="#cbcbb4" stroke-width="0.9"/>
<line x1="528.56" y1="704.73" x2="528.56" y2="723.59" stroke="#cbcbb4" stroke-width="0.9"/>
<line x1="528.56" y1="723.59" x2="528.56" y2="742.45" stroke="#b8c6b8" stroke-width="0.9"/>
<line x1="528.56" y1="742.45" x2="528.56" y2="761.31" stroke="#cbcbb4" stroke-width="0.9"/>
<line x1="528.56" y1="761.31" x2="528.56" y2="780.17" stroke="#cbcbb4" stroke-width="0.9"/>
<line x1="528.56" y1="780.17" x2="528.56" y2="799.02" stroke="#b8c6b8" stroke-width="0.9"/>
<line x1="528.56" y1="799.02" x2="528.56" y2="817.88" stroke="#cbcbb4" stroke-width="0.9"/>
<line x1="528.56" y1="817.88" x2="528.56" y2="836.74" stroke="#c9b7ba" stroke-width="0.9"/>
<line x1="528.56" y1="836.74" x2="528.56" y2="855.60" stroke="#c9b7ba" stroke-width="0.9"/>
<line x1="187.5" y1="855.80" x2="528.96" y2="855.80" stroke="#c8c8c8" stroke-width="1.1"/>
<line x1="187.5" y1="309.6" x2="528.96" y2="309.6" stroke="#d2d2d2" stroke-width="1"/>
<rect x="187.5" y="292.6" width="341.46" height="15.8" fill="#ababab" stroke="#666" stroke-width="1.1"/>
<line x1="244.41" y1="292.6" x2="244.41" y2="308.4" stroke="#5a5a5a" stroke-width="1.9"/>
<line x1="301.32" y1="292.6" x2="301.32" y2="308.4" stroke="#5a5a5a" stroke-width="1.9"/>
<line x1="358.23" y1="292.6" x2="358.23" y2="308.4" stroke="#5a5a5a" stroke-width="1.9"/>
<line x1="415.14" y1="292.6" x2="415.14" y2="308.4" stroke="#5a5a5a" stroke-width="1.9"/>
<line x1="472.05" y1="292.6" x2="472.05" y2="308.4" stroke="#5a5a5a" stroke-width="1.9"/>
<text x="215.95" y="303.8" font-family="Liberation Sans, sans-serif" font-size="9" fill="#1a1a1a" stroke="#1a1a1a" stroke-width="0.3" text-anchor="middle">D1</text>
<text x="272.87" y="303.8" font-family="Liberation Sans, sans-serif" font-size="9" fill="#1a1a1a" stroke="#1a1a1a" stroke-width="0.3" text-anchor="middle">D2</text>
<text x="329.77" y="303.8" font-family="Liberation Sans, sans-serif" font-size="9" fill="#1a1a1a" stroke="#1a1a1a" stroke-width="0.3" text-anchor="middle">D3</text>
<text x="386.69" y="303.8" font-family="Liberation Sans, sans-serif" font-size="9" fill="#1a1a1a" stroke="#1a1a1a" stroke-width="0.3" text-anchor="middle">D4</text>
<text x="443.59" y="303.8" font-family="Liberation Sans, sans-serif" font-size="9" fill="#1a1a1a" stroke="#1a1a1a" stroke-width="0.3" text-anchor="middle">D5</text>
<text x="500.50" y="303.8" font-family="Liberation Sans, sans-serif" font-size="9" fill="#1a1a1a" stroke="#1a1a1a" stroke-width="0.3" text-anchor="middle">Overall</text>
<rect x="171.1" y="308.7" width="15.40" height="546.90" fill="#ababab" stroke="#555" stroke-width="1.07"/>
<defs>
<clipPath id="c0"><rect x="171.1" y="308.70" width="15.40" height="18.86"/></clipPath>
<clipPath id="c1"><rect x="171.1" y="327.56" width="15.40" height="18.86"/></clipPath>
<clipPath id="c2"><rect x="171.1" y="346.42" width="15.40" height="18.86"/></clipPath>
<clipPath id="c3"><rect x="171.1" y="365.28" width="15.40" height="18.86"/></clipPath>
<clipPath id="c4"><rect x="171.1" y="384.13" width="15.40" height="18.86"/></clipPath>
<clipPath id="c5"><rect x="171.1" y="402.99" width="15.40" height="18.86"/></clipPath>
<clipPath id="c6"><rect x="171.1" y="421.85" width="15.40" height="18.86"/></clipPath>
<clipPath id="c7"><rect x="171.1" y="440.71" width="15.40" height="18.86"/></clipPath>
<clipPath id="c8"><rect x="171.1" y="459.57" width="15.40" height="18.86"/></clipPath>
<clipPath id="c9"><rect x="171.1" y="478.43" width="15.40" height="18.86"/></clipPath>
<clipPath id="c10"><rect x="171.1" y="497.29" width="15.40" height="18.86"/></clipPath>
<clipPath id="c11"><rect x="171.1" y="516.14" width="15.40" height="18.86"/></clipPath>
<clipPath id="c12"><rect x="171.1" y="535.00" width="15.40" height="18.86"/></clipPath>
<clipPath id="c13"><rect x="171.1" y="553.86" width="15.40" height="18.86"/></clipPath>
<clipPath id="c14"><rect x="171.1" y="572.72" width="15.40" height="18.86"/></clipPath>
<clipPath id="c15"><rect x="171.1" y="591.58" width="15.40" height="18.86"/></clipPath>
<clipPath id="c16"><rect x="171.1" y="610.44" width="15.40" height="18.86"/></clipPath>
<clipPath id="c17"><rect x="171.1" y="629.30" width="15.40" height="18.86"/></clipPath>
<clipPath id="c18"><rect x="171.1" y="648.16" width="15.40" height="18.86"/></clipPath>
<clipPath id="c19"><rect x="171.1" y="667.01" width="15.40" height="18.86"/></clipPath>
<clipPath id="c20"><rect x="171.1" y="685.87" width="15.40" height="18.86"/></clipPath>
<clipPath id="c21"><rect x="171.1" y="704.73" width="15.40" height="18.86"/></clipPath>
<clipPath id="c22"><rect x="171.1" y="723.59" width="15.40" height="18.86"/></clipPath>
<clipPath id="c23"><rect x="171.1" y="742.45" width="15.40" height="18.86"/></clipPath>
<clipPath id="c24"><rect x="171.1" y="761.31" width="15.40" height="18.86"/></clipPath>
<clipPath id="c25"><rect x="171.1" y="780.17" width="15.40" height="18.86"/></clipPath>
<clipPath id="c26"><rect x="171.1" y="799.02" width="15.40" height="18.86"/></clipPath>
<clipPath id="c27"><rect x="171.1" y="817.88" width="15.40" height="18.86"/></clipPath>
<clipPath id="c28"><rect x="171.1" y="836.74" width="15.40" height="18.86"/></clipPath>
</defs>
<g clip-path="url(#c0)"><text transform="translate(181.8 318.13) rotate(-90)" x="0" y="0" font-family="Liberation Sans, sans-serif" font-size="8.3" fill="#1a1a1a" stroke="#1a1a1a" stroke-width="0.3" text-anchor="middle">Study 1</text></g>
<line x1="171.1" y1="327.56" x2="186.5" y2="327.56" stroke="#555" stroke-width="1.07"/>
<g clip-path="url(#c1)"><text transform="translate(181.8 336.99) rotate(-90)" x="0" y="0" font-family="Liberation Sans, sans-serif" font-size="8.3" fill="#1a1a1a" stroke="#1a1a1a" stroke-width="0.3" text-anchor="middle">Study 2</text></g>
<line x1="171.1" y1="346.42" x2="186.5" y2="346.42" stroke="#555" stroke-width="1.07"/>
<g clip-path="url(#c2)"><text transform="translate(181.8 355.85) rotate(-90)" x="0" y="0" font-family="Liberation Sans, sans-serif" font-size="8.3" fill="#1a1a1a" stroke="#1a1a1a" stroke-width="0.3" text-anchor="middle">Study 3</text></g>
<line x1="171.1" y1="365.28" x2="186.5" y2="365.28" stroke="#555" stroke-width="1.07"/>
<g clip-path="url(#c3)"><text transform="translate(181.8 374.71) rotate(-90)" x="0" y="0" font-family="Liberation Sans, sans-serif" font-size="8.3" fill="#1a1a1a" stroke="#1a1a1a" stroke-width="0.3" text-anchor="middle">Study 4</text></g>
<line x1="171.1" y1="384.13" x2="186.5" y2="384.13" stroke="#555" stroke-width="1.07"/>
<g clip-path="url(#c4)"><text transform="translate(181.8 393.56) rotate(-90)" x="0" y="0" font-family="Liberation Sans, sans-serif" font-size="8.3" fill="#1a1a1a" stroke="#1a1a1a" stroke-width="0.3" text-anchor="middle">Study 5</text></g>
<line x1="171.1" y1="402.99" x2="186.5" y2="402.99" stroke="#555" stroke-width="1.07"/>
<g clip-path="url(#c5)"><text transform="translate(181.8 412.42) rotate(-90)" x="0" y="0" font-family="Liberation Sans, sans-serif" font-size="8.3" fill="#1a1a1a" stroke="#1a1a1a" stroke-width="0.3" text-anchor="middle">Study 6</text></g>
<line x1="171.1" y1="421.85" x2="186.5" y2="421.85" stroke="#555" stroke-width="1.07"/>
<g clip-path="url(#c6)"><text transform="translate(181.8 431.28) rotate(-90)" x="0" y="0" font-family="Liberation Sans, sans-serif" font-size="8.3" fill="#1a1a1a" stroke="#1a1a1a" stroke-width="0.3" text-anchor="middle">Study 7</text></g>
<line x1="171.1" y1="440.71" x2="186.5" y2="440.71" stroke="#555" stroke-width="1.07"/>
<g clip-path="url(#c7)"><text transform="translate(181.8 450.14) rotate(-90)" x="0" y="0" font-family="Liberation Sans, sans-serif" font-size="8.3" fill="#1a1a1a" stroke="#1a1a1a" stroke-width="0.3" text-anchor="middle">Study 8</text></g>
<line x1="171.1" y1="459.57" x2="186.5" y2="459.57" stroke="#555" stroke-width="1.07"/>
<g clip-path="url(#c8)"><text transform="translate(181.8 469.00) rotate(-90)" x="0" y="0" font-family="Liberation Sans, sans-serif" font-size="8.3" fill="#1a1a1a" stroke="#1a1a1a" stroke-width="0.3" text-anchor="middle">Study 9</text></g>
<line x1="171.1" y1="478.43" x2="186.5" y2="478.43" stroke="#555" stroke-width="1.07"/>
<g clip-path="url(#c9)"><text transform="translate(181.8 487.86) rotate(-90)" x="0" y="0" font-family="Liberation Sans, sans-serif" font-size="8.3" fill="#1a1a1a" stroke="#1a1a1a" stroke-width="0.3" text-anchor="middle">Study 10</text></g>
<line x1="171.1" y1="497.29" x2="186.5" y2="497.29" stroke="#555" stroke-width="1.07"/>
<g clip-path="url(#c10)"><text transform="translate(181.8 506.72) rotate(-90)" x="0" y="0" font-family="Liberation Sans, sans-serif" font-size="8.3" fill="#1a1a1a" stroke="#1a1a1a" stroke-width="0.3" text-anchor="middle">Study 11</text></g>
<line x1="171.1" y1="516.14" x2="186.5" y2="516.14" stroke="#555" stroke-width="1.07"/>
<g clip-path="url(#c11)"><text transform="translate(181.8 525.57) rotate(-90)" x="0" y="0" font-family="Liberation Sans, sans-serif" font-size="8.3" fill="#1a1a1a" stroke="#1a1a1a" stroke-width="0.3" text-anchor="middle">Study 12</text></g>
<line x1="171.1" y1="535.00" x2="186.5" y2="535.00" stroke="#555" stroke-width="1.07"/>
<g clip-path="url(#c12)"><text transform="translate(181.8 544.43) rotate(-90)" x="0" y="0" font-family="Liberation Sans, sans-serif" font-size="8.3" fill="#1a1a1a" stroke="#1a1a1a" stroke-width="0.3" text-anchor="middle">Study 13</text></g>
<line x1="171.1" y1="553.86" x2="186.5" y2="553.86" stroke="#555" stroke-width="1.07"/>
<g clip-path="url(#c13)"><text transform="translate(181.8 563.29) rotate(-90)" x="0" y="0" font-family="Liberation Sans, sans-serif" font-size="8.3" fill="#1a1a1a" stroke="#1a1a1a" stroke-width="0.3" text-anchor="middle">Study 14</text></g>
<line x1="171.1" y1="572.72" x2="186.5" y2="572.72" stroke="#555" stroke-width="1.07"/>
<g clip-path="url(#c14)"><text transform="translate(181.8 582.15) rotate(-90)" x="0" y="0" font-family="Liberation Sans, sans-serif" font-size="8.3" fill="#1a1a1a" stroke="#1a1a1a" stroke-width="0.3" text-anchor="middle">Study 15</text></g>
<line x1="171.1" y1="591.58" x2="186.5" y2="591.58" stroke="#555" stroke-width="1.07"/>
<g clip-path="url(#c15)"><text transform="translate(181.8 601.01) rotate(-90)" x="0" y="0" font-family="Liberation Sans, sans-serif" font-size="8.3" fill="#1a1a1a" stroke="#1a1a1a" stroke-width="0.3" text-anchor="middle">Study 16</text></g>
<line x1="171.1" y1="610.44" x2="186.5" y2="610.44" stroke="#555" stroke-width="1.07"/>
<g clip-path="url(#c16)"><text transform="translate(181.8 619.87) rotate(-90)" x="0" y="0" font-family="Liberation Sans, sans-serif" font-size="8.3" fill="#1a1a1a" stroke="#1a1a1a" stroke-width="0.3" text-anchor="middle">Study 17</text></g>
<line x1="171.1" y1="629.30" x2="186.5" y2="629.30" stroke="#555" stroke-width="1.07"/>
<g clip-path="url(#c17)"><text transform="translate(181.8 638.73) rotate(-90)" x="0" y="0" font-family="Liberation Sans, sans-serif" font-size="8.3" fill="#1a1a1a" stroke="#1a1a1a" stroke-width="0.3" text-anchor="middle">Study 18</text></g>
<line x1="171.1" y1="648.16" x2="186.5" y2="648.16" stroke="#555" stroke-width="1.07"/>
<g clip-path="url(#c18)"><text transform="translate(181.8 657.58) rotate(-90)" x="0" y="0" font-family="Liberation Sans, sans-serif" font-size="8.3" fill="#1a1a1a" stroke="#1a1a1a" stroke-width="0.3" text-anchor="middle">Study 19</text></g>
<line x1="171.1" y1="667.01" x2="186.5" y2="667.01" stroke="#555" stroke-width="1.07"/>
<g clip-path="url(#c19)"><text transform="translate(181.8 676.44) rotate(-90)" x="0" y="0" font-family="Liberation Sans, sans-serif" font-size="8.3" fill="#1a1a1a" stroke="#1a1a1a" stroke-width="0.3" text-anchor="middle">Study 20</text></g>
<line x1="171.1" y1="685.87" x2="186.5" y2="685.87" stroke="#555" stroke-width="1.07"/>
<g clip-path="url(#c20)"><text transform="translate(181.8 695.30) rotate(-90)" x="0" y="0" font-family="Liberation Sans, sans-serif" font-size="8.3" fill="#1a1a1a" stroke="#1a1a1a" stroke-width="0.3" text-anchor="middle">Study 21</text></g>
<line x1="171.1" y1="704.73" x2="186.5" y2="704.73" stroke="#555" stroke-width="1.07"/>
<g clip-path="url(#c21)"><text transform="translate(181.8 714.16) rotate(-90)" x="0" y="0" font-family="Liberation Sans, sans-serif" font-size="8.3" fill="#1a1a1a" stroke="#1a1a1a" stroke-width="0.3" text-anchor="middle">Study 22</text></g>
<line x1="171.1" y1="723.59" x2="186.5" y2="723.59" stroke="#555" stroke-width="1.07"/>
<g clip-path="url(#c22)"><text transform="translate(181.8 733.02) rotate(-90)" x="0" y="0" font-family="Liberation Sans, sans-serif" font-size="8.3" fill="#1a1a1a" stroke="#1a1a1a" stroke-width="0.3" text-anchor="middle">Study 23</text></g>
<line x1="171.1" y1="742.45" x2="186.5" y2="742.45" stroke="#555" stroke-width="1.07"/>
<g clip-path="url(#c23)"><text transform="translate(181.8 751.88) rotate(-90)" x="0" y="0" font-family="Liberation Sans, sans-serif" font-size="8.3" fill="#1a1a1a" stroke="#1a1a1a" stroke-width="0.3" text-anchor="middle">Study 24</text></g>
<line x1="171.1" y1="761.31" x2="186.5" y2="761.31" stroke="#555" stroke-width="1.07"/>
<g clip-path="url(#c24)"><text transform="translate(181.8 770.74) rotate(-90)" x="0" y="0" font-family="Liberation Sans, sans-serif" font-size="8.3" fill="#1a1a1a" stroke="#1a1a1a" stroke-width="0.3" text-anchor="middle">Study 25</text></g>
<line x1="171.1" y1="780.17" x2="186.5" y2="780.17" stroke="#555" stroke-width="1.07"/>
<g clip-path="url(#c25)"><text transform="translate(181.8 789.59) rotate(-90)" x="0" y="0" font-family="Liberation Sans, sans-serif" font-size="8.3" fill="#1a1a1a" stroke="#1a1a1a" stroke-width="0.3" text-anchor="middle">Study 26</text></g>
<line x1="171.1" y1="799.02" x2="186.5" y2="799.02" stroke="#555" stroke-width="1.07"/>
<g clip-path="url(#c26)"><text transform="translate(181.8 808.45) rotate(-90)" x="0" y="0" font-family="Liberation Sans, sans-serif" font-size="8.3" fill="#1a1a1a" stroke="#1a1a1a" stroke-width="0.3" text-anchor="middle">Study 27</text></g>
<line x1="171.1" y1="817.88" x2="186.5" y2="817.88" stroke="#555" stroke-width="1.07"/>
<g clip-path="url(#c27)"><text transform="translate(181.8 827.31) rotate(-90)" x="0" y="0" font-family="Liberation Sans, sans-serif" font-size="8.3" fill="#1a1a1a" stroke="#1a1a1a" stroke-width="0.3" text-anchor="middle">Study 28</text></g>
<line x1="171.1" y1="836.74" x2="186.5" y2="836.74" stroke="#555" stroke-width="1.07"/>
<g clip-path="url(#c28)"><text transform="translate(181.8 846.17) rotate(-90)" x="0" y="0" font-family="Liberation Sans, sans-serif" font-size="8.3" fill="#1a1a1a" stroke="#1a1a1a" stroke-width="0.3" text-anchor="middle">Study 29</text></g>
<circle cx="215.65" cy="318.58" r="5.3" fill="#02C100" stroke="#000" stroke-width="0.9"/>
<path d="M213.35 317.78H217.95M215.65 315.48V320.08" stroke="#000" stroke-width="1.1"/>
<circle cx="272.56" cy="318.58" r="5.3" fill="#E2DF07" stroke="#000" stroke-width="0.9"/>
<path d="M270.26 317.78H274.87" stroke="#000" stroke-width="1.1"/>
<circle cx="329.47" cy="318.58" r="5.3" fill="#02C100" stroke="#000" stroke-width="0.9"/>
<path d="M327.17 317.78H331.77M329.47 315.48V320.08" stroke="#000" stroke-width="1.1"/>
<circle cx="386.38" cy="318.58" r="5.3" fill="#BF0000" stroke="#000" stroke-width="0.9"/>
<path d="M384.20 315.48L388.57 320.77M388.57 315.48L384.20 320.77" stroke="#000" stroke-width="1.23"/>
<circle cx="443.29" cy="318.58" r="5.3" fill="#BF0000" stroke="#000" stroke-width="0.9"/>
<path d="M441.11 315.48L445.48 320.77M445.48 315.48L441.11 320.77" stroke="#000" stroke-width="1.23"/>
<circle cx="500.20" cy="318.58" r="5.3" fill="#BF0000" stroke="#000" stroke-width="0.9"/>
<path d="M498.02 315.48L502.39 320.77M502.39 315.48L498.02 320.77" stroke="#000" stroke-width="1.23"/>
<circle cx="215.65" cy="337.44" r="5.3" fill="#E2DF07" stroke="#000" stroke-width="0.9"/>
<path d="M213.35 336.64H217.95" stroke="#000" stroke-width="1.1"/>
<circle cx="272.56" cy="337.44" r="5.3" fill="#E2DF07" stroke="#000" stroke-width="0.9"/>
<path d="M270.26 336.64H274.87" stroke="#000" stroke-width="1.1"/>
<circle cx="329.47" cy="337.44" r="5.3" fill="#02C100" stroke="#000" stroke-width="0.9"/>
<path d="M327.17 336.64H331.77M329.47 334.34V338.94" stroke="#000" stroke-width="1.1"/>
<circle cx="386.38" cy="337.44" r="5.3" fill="#E2DF07" stroke="#000" stroke-width="0.9"/>
<path d="M384.08 336.64H388.69" stroke="#000" stroke-width="1.1"/>
<circle cx="443.29" cy="337.44" r="5.3" fill="#E2DF07" stroke="#000" stroke-width="0.9"/>
<path d="M440.99 336.64H445.59" stroke="#000" stroke-width="1.1"/>
<circle cx="500.20" cy="337.44" r="5.3" fill="#E2DF07" stroke="#000" stroke-width="0.9"/>
<path d="M497.90 336.64H502.50" stroke="#000" stroke-width="1.1"/>
<circle cx="215.65" cy="356.30" r="5.3" fill="#02C100" stroke="#000" stroke-width="0.9"/>
<path d="M213.35 355.50H217.95M215.65 353.20V357.80" stroke="#000" stroke-width="1.1"/>
<circle cx="272.56" cy="356.30" r="5.3" fill="#02C100" stroke="#000" stroke-width="0.9"/>
<path d="M270.26 355.50H274.87M272.56 353.20V357.80" stroke="#000" stroke-width="1.1"/>
<circle cx="329.47" cy="356.30" r="5.3" fill="#02C100" stroke="#000" stroke-width="0.9"/>
<path d="M327.17 355.50H331.77M329.47 353.20V357.80" stroke="#000" stroke-width="1.1"/>
<circle cx="386.38" cy="356.30" r="5.3" fill="#02C100" stroke="#000" stroke-width="0.9"/>
<path d="M384.08 355.50H388.69M386.38 353.20V357.80" stroke="#000" stroke-width="1.1"/>
<circle cx="443.29" cy="356.30" r="5.3" fill="#02C100" stroke="#000" stroke-width="0.9"/>
<path d="M440.99 355.50H445.59M443.29 353.20V357.80" stroke="#000" stroke-width="1.1"/>
<circle cx="500.20" cy="356.30" r="5.3" fill="#02C100" stroke="#000" stroke-width="0.9"/>
<path d="M497.90 355.50H502.50M500.20 353.20V357.80" stroke="#000" stroke-width="1.1"/>
<circle cx="215.65" cy="375.16" r="5.3" fill="#E2DF07" stroke="#000" stroke-width="0.9"/>
<path d="M213.35 374.36H217.95" stroke="#000" stroke-width="1.1"/>
<circle cx="272.56" cy="375.16" r="5.3" fill="#E2DF07" stroke="#000" stroke-width="0.9"/>
<path d="M270.26 374.36H274.87" stroke="#000" stroke-width="1.1"/>
<circle cx="329.47" cy="375.16" r="5.3" fill="#02C100" stroke="#000" stroke-width="0.9"/>
<path d="M327.17 374.36H331.77M329.47 372.06V376.66" stroke="#000" stroke-width="1.1"/>
<circle cx="386.38" cy="375.16" r="5.3" fill="#02C100" stroke="#000" stroke-width="0.9"/>
<path d="M384.08 374.36H388.69M386.38 372.06V376.66" stroke="#000" stroke-width="1.1"/>
<circle cx="443.29" cy="375.16" r="5.3" fill="#02C100" stroke="#000" stroke-width="0.9"/>
<path d="M440.99 374.36H445.59M443.29 372.06V376.66" stroke="#000" stroke-width="1.1"/>
<circle cx="500.20" cy="375.16" r="5.3" fill="#E2DF07" stroke="#000" stroke-width="0.9"/>
<path d="M497.90 374.36H502.50" stroke="#000" stroke-width="1.1"/>
<circle cx="215.65" cy="394.01" r="5.3" fill="#E2DF07" stroke="#000" stroke-width="0.9"/>
<path d="M213.35 393.21H217.95" stroke="#000" stroke-width="1.1"/>
<circle cx="272.56" cy="394.01" r="5.3" fill="#BF0000" stroke="#000" stroke-width="0.9"/>
<path d="M270.38 390.92L274.75 396.21M274.75 390.92L270.38 396.21" stroke="#000" stroke-width="1.23"/>
<circle cx="329.47" cy="394.01" r="5.3" fill="#02C100" stroke="#000" stroke-width="0.9"/>
<path d="M327.17 393.21H331.77M329.47 390.91V395.51" stroke="#000" stroke-width="1.1"/>
<circle cx="386.38" cy="394.01" r="5.3" fill="#02C100" stroke="#000" stroke-width="0.9"/>
<path d="M384.08 393.21H388.69M386.38 390.91V395.51" stroke="#000" stroke-width="1.1"/>
<circle cx="443.29" cy="394.01" r="5.3" fill="#02C100" stroke="#000" stroke-width="0.9"/>
<path d="M440.99 393.21H445.59M443.29 390.91V395.51" stroke="#000" stroke-width="1.1"/>
<circle cx="500.20" cy="394.01" r="5.3" fill="#BF0000" stroke="#000" stroke-width="0.9"/>
<path d="M498.02 390.92L502.39 396.21M502.39 390.92L498.02 396.21" stroke="#000" stroke-width="1.23"/>
<circle cx="215.65" cy="412.87" r="5.3" fill="#E2DF07" stroke="#000" stroke-width="0.9"/>
<path d="M213.35 412.07H217.95" stroke="#000" stroke-width="1.1"/>
<circle cx="272.56" cy="412.87" r="5.3" fill="#E2DF07" stroke="#000" stroke-width="0.9"/>
<path d="M270.26 412.07H274.87" stroke="#000" stroke-width="1.1"/>
<circle cx="329.47" cy="412.87" r="5.3" fill="#02C100" stroke="#000" stroke-width="0.9"/>
<path d="M327.17 412.07H331.77M329.47 409.77V414.37" stroke="#000" stroke-width="1.1"/>
<circle cx="386.38" cy="412.87" r="5.3" fill="#E2DF07" stroke="#000" stroke-width="0.9"/>
<path d="M384.08 412.07H388.69" stroke="#000" stroke-width="1.1"/>
<circle cx="443.29" cy="412.87" r="5.3" fill="#BF0000" stroke="#000" stroke-width="0.9"/>
<path d="M441.11 409.78L445.48 415.07M445.48 409.78L441.11 415.07" stroke="#000" stroke-width="1.23"/>
<circle cx="500.20" cy="412.87" r="5.3" fill="#BF0000" stroke="#000" stroke-width="0.9"/>
<path d="M498.02 409.78L502.39 415.07M502.39 409.78L498.02 415.07" stroke="#000" stroke-width="1.23"/>
<circle cx="215.65" cy="431.73" r="5.3" fill="#02C100" stroke="#000" stroke-width="0.9"/>
<path d="M213.35 430.93H217.95M215.65 428.63V433.23" stroke="#000" stroke-width="1.1"/>
<circle cx="272.56" cy="431.73" r="5.3" fill="#02C100" stroke="#000" stroke-width="0.9"/>
<path d="M270.26 430.93H274.87M272.56 428.63V433.23" stroke="#000" stroke-width="1.1"/>
<circle cx="329.47" cy="431.73" r="5.3" fill="#02C100" stroke="#000" stroke-width="0.9"/>
<path d="M327.17 430.93H331.77M329.47 428.63V433.23" stroke="#000" stroke-width="1.1"/>
<circle cx="386.38" cy="431.73" r="5.3" fill="#02C100" stroke="#000" stroke-width="0.9"/>
<path d="M384.08 430.93H388.69M386.38 428.63V433.23" stroke="#000" stroke-width="1.1"/>
<circle cx="443.29" cy="431.73" r="5.3" fill="#02C100" stroke="#000" stroke-width="0.9"/>
<path d="M440.99 430.93H445.59M443.29 428.63V433.23" stroke="#000" stroke-width="1.1"/>
<circle cx="500.20" cy="431.73" r="5.3" fill="#02C100" stroke="#000" stroke-width="0.9"/>
<path d="M497.90 430.93H502.50M500.20 428.63V433.23" stroke="#000" stroke-width="1.1"/>
<circle cx="215.65" cy="450.59" r="5.3" fill="#02C100" stroke="#000" stroke-width="0.9"/>
<path d="M213.35 449.79H217.95M215.65 447.49V452.09" stroke="#000" stroke-width="1.1"/>
<circle cx="272.56" cy="450.59" r="5.3" fill="#02C100" stroke="#000" stroke-width="0.9"/>
<path d="M270.26 449.79H274.87M272.56 447.49V452.09" stroke="#000" stroke-width="1.1"/>
<circle cx="329.47" cy="450.59" r="5.3" fill="#02C100" stroke="#000" stroke-width="0.9"/>
<path d="M327.17 449.79H331.77M329.47 447.49V452.09" stroke="#000" stroke-width="1.1"/>
<circle cx="386.38" cy="450.59" r="5.3" fill="#02C100" stroke="#000" stroke-width="0.9"/>
<path d="M384.08 449.79H388.69M386.38 447.49V452.09" stroke="#000" stroke-width="1.1"/>
<circle cx="443.29" cy="450.59" r="5.3" fill="#02C100" stroke="#000" stroke-width="0.9"/>
<path d="M440.99 449.79H445.59M443.29 447.49V452.09" stroke="#000" stroke-width="1.1"/>
<circle cx="500.20" cy="450.59" r="5.3" fill="#02C100" stroke="#000" stroke-width="0.9"/>
<path d="M497.90 449.79H502.50M500.20 447.49V452.09" stroke="#000" stroke-width="1.1"/>
<circle cx="215.65" cy="469.45" r="5.3" fill="#E2DF07" stroke="#000" stroke-width="0.9"/>
<path d="M213.35 468.65H217.95" stroke="#000" stroke-width="1.1"/>
<circle cx="272.56" cy="469.45" r="5.3" fill="#E2DF07" stroke="#000" stroke-width="0.9"/>
<path d="M270.26 468.65H274.87" stroke="#000" stroke-width="1.1"/>
<circle cx="329.47" cy="469.45" r="5.3" fill="#02C100" stroke="#000" stroke-width="0.9"/>
<path d="M327.17 468.65H331.77M329.47 466.35V470.95" stroke="#000" stroke-width="1.1"/>
<circle cx="386.38" cy="469.45" r="5.3" fill="#E2DF07" stroke="#000" stroke-width="0.9"/>
<path d="M384.08 468.65H388.69" stroke="#000" stroke-width="1.1"/>
<circle cx="443.29" cy="469.45" r="5.3" fill="#02C100" stroke="#000" stroke-width="0.9"/>
<path d="M440.99 468.65H445.59M443.29 466.35V470.95" stroke="#000" stroke-width="1.1"/>
<circle cx="500.20" cy="469.45" r="5.3" fill="#E2DF07" stroke="#000" stroke-width="0.9"/>
<path d="M497.90 468.65H502.50" stroke="#000" stroke-width="1.1"/>
<circle cx="215.65" cy="488.31" r="5.3" fill="#02C100" stroke="#000" stroke-width="0.9"/>
<path d="M213.35 487.51H217.95M215.65 485.21V489.81" stroke="#000" stroke-width="1.1"/>
<circle cx="272.56" cy="488.31" r="5.3" fill="#E2DF07" stroke="#000" stroke-width="0.9"/>
<path d="M270.26 487.51H274.87" stroke="#000" stroke-width="1.1"/>
<circle cx="329.47" cy="488.31" r="5.3" fill="#02C100" stroke="#000" stroke-width="0.9"/>
<path d="M327.17 487.51H331.77M329.47 485.21V489.81" stroke="#000" stroke-width="1.1"/>
<circle cx="386.38" cy="488.31" r="5.3" fill="#E2DF07" stroke="#000" stroke-width="0.9"/>
<path d="M384.08 487.51H388.69" stroke="#000" stroke-width="1.1"/>
<circle cx="443.29" cy="488.31" r="5.3" fill="#E2DF07" stroke="#000" stroke-width="0.9"/>
<path d="M440.99 487.51H445.59" stroke="#000" stroke-width="1.1"/>
<circle cx="500.20" cy="488.31" r="5.3" fill="#E2DF07" stroke="#000" stroke-width="0.9"/>
<path d="M497.90 487.51H502.50" stroke="#000" stroke-width="1.1"/>
<circle cx="215.65" cy="507.17" r="5.3" fill="#E2DF07" stroke="#000" stroke-width="0.9"/>
<path d="M213.35 506.37H217.95" stroke="#000" stroke-width="1.1"/>
<circle cx="272.56" cy="507.17" r="5.3" fill="#E2DF07" stroke="#000" stroke-width="0.9"/>
<path d="M270.26 506.37H274.87" stroke="#000" stroke-width="1.1"/>
<circle cx="329.47" cy="507.17" r="5.3" fill="#02C100" stroke="#000" stroke-width="0.9"/>
<path d="M327.17 506.37H331.77M329.47 504.07V508.67" stroke="#000" stroke-width="1.1"/>
<circle cx="386.38" cy="507.17" r="5.3" fill="#E2DF07" stroke="#000" stroke-width="0.9"/>
<path d="M384.08 506.37H388.69" stroke="#000" stroke-width="1.1"/>
<circle cx="443.29" cy="507.17" r="5.3" fill="#E2DF07" stroke="#000" stroke-width="0.9"/>
<path d="M440.99 506.37H445.59" stroke="#000" stroke-width="1.1"/>
<circle cx="500.20" cy="507.17" r="5.3" fill="#E2DF07" stroke="#000" stroke-width="0.9"/>
<path d="M497.90 506.37H502.50" stroke="#000" stroke-width="1.1"/>
<circle cx="215.65" cy="526.02" r="5.3" fill="#02C100" stroke="#000" stroke-width="0.9"/>
<path d="M213.35 525.22H217.95M215.65 522.92V527.52" stroke="#000" stroke-width="1.1"/>
<circle cx="272.56" cy="526.02" r="5.3" fill="#E2DF07" stroke="#000" stroke-width="0.9"/>
<path d="M270.26 525.22H274.87" stroke="#000" stroke-width="1.1"/>
<circle cx="329.47" cy="526.02" r="5.3" fill="#02C100" stroke="#000" stroke-width="0.9"/>
<path d="M327.17 525.22H331.77M329.47 522.92V527.52" stroke="#000" stroke-width="1.1"/>
<circle cx="386.38" cy="526.02" r="5.3" fill="#E2DF07" stroke="#000" stroke-width="0.9"/>
<path d="M384.08 525.22H388.69" stroke="#000" stroke-width="1.1"/>
<circle cx="443.29" cy="526.02" r="5.3" fill="#E2DF07" stroke="#000" stroke-width="0.9"/>
<path d="M440.99 525.22H445.59" stroke="#000" stroke-width="1.1"/>
<circle cx="500.20" cy="526.02" r="5.3" fill="#E2DF07" stroke="#000" stroke-width="0.9"/>
<path d="M497.90 525.22H502.50" stroke="#000" stroke-width="1.1"/>
<circle cx="215.65" cy="544.88" r="5.3" fill="#E2DF07" stroke="#000" stroke-width="0.9"/>
<path d="M213.35 544.08H217.95" stroke="#000" stroke-width="1.1"/>
<circle cx="272.56" cy="544.88" r="5.3" fill="#02C100" stroke="#000" stroke-width="0.9"/>
<path d="M270.26 544.08H274.87M272.56 541.78V546.38" stroke="#000" stroke-width="1.1"/>
<circle cx="329.47" cy="544.88" r="5.3" fill="#02C100" stroke="#000" stroke-width="0.9"/>
<path d="M327.17 544.08H331.77M329.47 541.78V546.38" stroke="#000" stroke-width="1.1"/>
<circle cx="386.38" cy="544.88" r="5.3" fill="#E2DF07" stroke="#000" stroke-width="0.9"/>
<path d="M384.08 544.08H388.69" stroke="#000" stroke-width="1.1"/>
<circle cx="443.29" cy="544.88" r="5.3" fill="#E2DF07" stroke="#000" stroke-width="0.9"/>
<path d="M440.99 544.08H445.59" stroke="#000" stroke-width="1.1"/>
<circle cx="500.20" cy="544.88" r="5.3" fill="#E2DF07" stroke="#000" stroke-width="0.9"/>
<path d="M497.90 544.08H502.50" stroke="#000" stroke-width="1.1"/>
<circle cx="215.65" cy="563.74" r="5.3" fill="#E2DF07" stroke="#000" stroke-width="0.9"/>
<path d="M213.35 562.94H217.95" stroke="#000" stroke-width="1.1"/>
<circle cx="272.56" cy="563.74" r="5.3" fill="#E2DF07" stroke="#000" stroke-width="0.9"/>
<path d="M270.26 562.94H274.87" stroke="#000" stroke-width="1.1"/>
<circle cx="329.47" cy="563.74" r="5.3" fill="#02C100" stroke="#000" stroke-width="0.9"/>
<path d="M327.17 562.94H331.77M329.47 560.64V565.24" stroke="#000" stroke-width="1.1"/>
<circle cx="386.38" cy="563.74" r="5.3" fill="#E2DF07" stroke="#000" stroke-width="0.9"/>
<path d="M384.08 562.94H388.69" stroke="#000" stroke-width="1.1"/>
<circle cx="443.29" cy="563.74" r="5.3" fill="#E2DF07" stroke="#000" stroke-width="0.9"/>
<path d="M440.99 562.94H445.59" stroke="#000" stroke-width="1.1"/>
<circle cx="500.20" cy="563.74" r="5.3" fill="#E2DF07" stroke="#000" stroke-width="0.9"/>
<path d="M497.90 562.94H502.50" stroke="#000" stroke-width="1.1"/>
<circle cx="215.65" cy="582.60" r="5.3" fill="#E2DF07" stroke="#000" stroke-width="0.9"/>
<path d="M213.35 581.80H217.95" stroke="#000" stroke-width="1.1"/>
<circle cx="272.56" cy="582.60" r="5.3" fill="#E2DF07" stroke="#000" stroke-width="0.9"/>
<path d="M270.26 581.80H274.87" stroke="#000" stroke-width="1.1"/>
<circle cx="329.47" cy="582.60" r="5.3" fill="#BF0000" stroke="#000" stroke-width="0.9"/>
<path d="M327.29 579.51L331.66 584.80M331.66 579.51L327.29 584.80" stroke="#000" stroke-width="1.23"/>
<circle cx="386.38" cy="582.60" r="5.3" fill="#BF0000" stroke="#000" stroke-width="0.9"/>
<path d="M384.20 579.51L388.57 584.80M388.57 579.51L384.20 584.80" stroke="#000" stroke-width="1.23"/>
<circle cx="443.29" cy="582.60" r="5.3" fill="#E2DF07" stroke="#000" stroke-width="0.9"/>
<path d="M440.99 581.80H445.59" stroke="#000" stroke-width="1.1"/>
<circle cx="500.20" cy="582.60" r="5.3" fill="#BF0000" stroke="#000" stroke-width="0.9"/>
<path d="M498.02 579.51L502.39 584.80M502.39 579.51L498.02 584.80" stroke="#000" stroke-width="1.23"/>
<circle cx="215.65" cy="601.46" r="5.3" fill="#02C100" stroke="#000" stroke-width="0.9"/>
<path d="M213.35 600.66H217.95M215.65 598.36V602.96" stroke="#000" stroke-width="1.1"/>
<circle cx="272.56" cy="601.46" r="5.3" fill="#02C100" stroke="#000" stroke-width="0.9"/>
<path d="M270.26 600.66H274.87M272.56 598.36V602.96" stroke="#000" stroke-width="1.1"/>
<circle cx="329.47" cy="601.46" r="5.3" fill="#02C100" stroke="#000" stroke-width="0.9"/>
<path d="M327.17 600.66H331.77M329.47 598.36V602.96" stroke="#000" stroke-width="1.1"/>
<circle cx="386.38" cy="601.46" r="5.3" fill="#02C100" stroke="#000" stroke-width="0.9"/>
<path d="M384.08 600.66H388.69M386.38 598.36V602.96" stroke="#000" stroke-width="1.1"/>
<circle cx="443.29" cy="601.46" r="5.3" fill="#02C100" stroke="#000" stroke-width="0.9"/>
<path d="M440.99 600.66H445.59M443.29 598.36V602.96" stroke="#000" stroke-width="1.1"/>
<circle cx="500.20" cy="601.46" r="5.3" fill="#02C100" stroke="#000" stroke-width="0.9"/>
<path d="M497.90 600.66H502.50M500.20 598.36V602.96" stroke="#000" stroke-width="1.1"/>
<circle cx="215.65" cy="620.32" r="5.3" fill="#E2DF07" stroke="#000" stroke-width="0.9"/>
<path d="M213.35 619.52H217.95" stroke="#000" stroke-width="1.1"/>
<circle cx="272.56" cy="620.32" r="5.3" fill="#E2DF07" stroke="#000" stroke-width="0.9"/>
<path d="M270.26 619.52H274.87" stroke="#000" stroke-width="1.1"/>
<circle cx="329.47" cy="620.32" r="5.3" fill="#02C100" stroke="#000" stroke-width="0.9"/>
<path d="M327.17 619.52H331.77M329.47 617.22V621.82" stroke="#000" stroke-width="1.1"/>
<circle cx="386.38" cy="620.32" r="5.3" fill="#02C100" stroke="#000" stroke-width="0.9"/>
<path d="M384.08 619.52H388.69M386.38 617.22V621.82" stroke="#000" stroke-width="1.1"/>
<circle cx="443.29" cy="620.32" r="5.3" fill="#E2DF07" stroke="#000" stroke-width="0.9"/>
<path d="M440.99 619.52H445.59" stroke="#000" stroke-width="1.1"/>
<circle cx="500.20" cy="620.32" r="5.3" fill="#E2DF07" stroke="#000" stroke-width="0.9"/>
<path d="M497.90 619.52H502.50" stroke="#000" stroke-width="1.1"/>
<circle cx="215.65" cy="639.18" r="5.3" fill="#02C100" stroke="#000" stroke-width="0.9"/>
<path d="M213.35 638.38H217.95M215.65 636.08V640.68" stroke="#000" stroke-width="1.1"/>
<circle cx="272.56" cy="639.18" r="5.3" fill="#02C100" stroke="#000" stroke-width="0.9"/>
<path d="M270.26 638.38H274.87M272.56 636.08V640.68" stroke="#000" stroke-width="1.1"/>
<circle cx="329.47" cy="639.18" r="5.3" fill="#02C100" stroke="#000" stroke-width="0.9"/>
<path d="M327.17 638.38H331.77M329.47 636.08V640.68" stroke="#000" stroke-width="1.1"/>
<circle cx="386.38" cy="639.18" r="5.3" fill="#E2DF07" stroke="#000" stroke-width="0.9"/>
<path d="M384.08 638.38H388.69" stroke="#000" stroke-width="1.1"/>
<circle cx="443.29" cy="639.18" r="5.3" fill="#02C100" stroke="#000" stroke-width="0.9"/>
<path d="M440.99 638.38H445.59M443.29 636.08V640.68" stroke="#000" stroke-width="1.1"/>
<circle cx="500.20" cy="639.18" r="5.3" fill="#E2DF07" stroke="#000" stroke-width="0.9"/>
<path d="M497.90 638.38H502.50" stroke="#000" stroke-width="1.1"/>
<circle cx="215.65" cy="658.03" r="5.3" fill="#02C100" stroke="#000" stroke-width="0.9"/>
<path d="M213.35 657.23H217.95M215.65 654.93V659.53" stroke="#000" stroke-width="1.1"/>
<circle cx="272.56" cy="658.03" r="5.3" fill="#02C100" stroke="#000" stroke-width="0.9"/>
<path d="M270.26 657.23H274.87M272.56 654.93V659.53" stroke="#000" stroke-width="1.1"/>
<circle cx="329.47" cy="658.03" r="5.3" fill="#02C100" stroke="#000" stroke-width="0.9"/>
<path d="M327.17 657.23H331.77M329.47 654.93V659.53" stroke="#000" stroke-width="1.1"/>
<circle cx="386.38" cy="658.03" r="5.3" fill="#E2DF07" stroke="#000" stroke-width="0.9"/>
<path d="M384.08 657.23H388.69" stroke="#000" stroke-width="1.1"/>
<circle cx="443.29" cy="658.03" r="5.3" fill="#02C100" stroke="#000" stroke-width="0.9"/>
<path d="M440.99 657.23H445.59M443.29 654.93V659.53" stroke="#000" stroke-width="1.1"/>
<circle cx="500.20" cy="658.03" r="5.3" fill="#E2DF07" stroke="#000" stroke-width="0.9"/>
<path d="M497.90 657.23H502.50" stroke="#000" stroke-width="1.1"/>
<circle cx="215.65" cy="676.89" r="5.3" fill="#02C100" stroke="#000" stroke-width="0.9"/>
<path d="M213.35 676.09H217.95M215.65 673.79V678.39" stroke="#000" stroke-width="1.1"/>
<circle cx="272.56" cy="676.89" r="5.3" fill="#E2DF07" stroke="#000" stroke-width="0.9"/>
<path d="M270.26 676.09H274.87" stroke="#000" stroke-width="1.1"/>
<circle cx="329.47" cy="676.89" r="5.3" fill="#02C100" stroke="#000" stroke-width="0.9"/>
<path d="M327.17 676.09H331.77M329.47 673.79V678.39" stroke="#000" stroke-width="1.1"/>
<circle cx="386.38" cy="676.89" r="5.3" fill="#02C100" stroke="#000" stroke-width="0.9"/>
<path d="M384.08 676.09H388.69M386.38 673.79V678.39" stroke="#000" stroke-width="1.1"/>
<circle cx="443.29" cy="676.89" r="5.3" fill="#02C100" stroke="#000" stroke-width="0.9"/>
<path d="M440.99 676.09H445.59M443.29 673.79V678.39" stroke="#000" stroke-width="1.1"/>
<circle cx="500.20" cy="676.89" r="5.3" fill="#E2DF07" stroke="#000" stroke-width="0.9"/>
<path d="M497.90 676.09H502.50" stroke="#000" stroke-width="1.1"/>
<circle cx="215.65" cy="695.75" r="5.3" fill="#02C100" stroke="#000" stroke-width="0.9"/>
<path d="M213.35 694.95H217.95M215.65 692.65V697.25" stroke="#000" stroke-width="1.1"/>
<circle cx="272.56" cy="695.75" r="5.3" fill="#E2DF07" stroke="#000" stroke-width="0.9"/>
<path d="M270.26 694.95H274.87" stroke="#000" stroke-width="1.1"/>
<circle cx="329.47" cy="695.75" r="5.3" fill="#02C100" stroke="#000" stroke-width="0.9"/>
<path d="M327.17 694.95H331.77M329.47 692.65V697.25" stroke="#000" stroke-width="1.1"/>
<circle cx="386.38" cy="695.75" r="5.3" fill="#02C100" stroke="#000" stroke-width="0.9"/>
<path d="M384.08 694.95H388.69M386.38 692.65V697.25" stroke="#000" stroke-width="1.1"/>
<circle cx="443.29" cy="695.75" r="5.3" fill="#E2DF07" stroke="#000" stroke-width="0.9"/>
<path d="M440.99 694.95H445.59" stroke="#000" stroke-width="1.1"/>
<circle cx="500.20" cy="695.75" r="5.3" fill="#E2DF07" stroke="#000" stroke-width="0.9"/>
<path d="M497.90 694.95H502.50" stroke="#000" stroke-width="1.1"/>
<circle cx="215.65" cy="714.61" r="5.3" fill="#E2DF07" stroke="#000" stroke-width="0.9"/>
<path d="M213.35 713.81H217.95" stroke="#000" stroke-width="1.1"/>
<circle cx="272.56" cy="714.61" r="5.3" fill="#E2DF07" stroke="#000" stroke-width="0.9"/>
<path d="M270.26 713.81H274.87" stroke="#000" stroke-width="1.1"/>
<circle cx="329.47" cy="714.61" r="5.3" fill="#E2DF07" stroke="#000" stroke-width="0.9"/>
<path d="M327.17 713.81H331.77" stroke="#000" stroke-width="1.1"/>
<circle cx="386.38" cy="714.61" r="5.3" fill="#E2DF07" stroke="#000" stroke-width="0.9"/>
<path d="M384.08 713.81H388.69" stroke="#000" stroke-width="1.1"/>
<circle cx="443.29" cy="714.61" r="5.3" fill="#E2DF07" stroke="#000" stroke-width="0.9"/>
<path d="M440.99 713.81H445.59" stroke="#000" stroke-width="1.1"/>
<circle cx="500.20" cy="714.61" r="5.3" fill="#E2DF07" stroke="#000" stroke-width="0.9"/>
<path d="M497.90 713.81H502.50" stroke="#000" stroke-width="1.1"/>
<circle cx="215.65" cy="733.47" r="5.3" fill="#02C100" stroke="#000" stroke-width="0.9"/>
<path d="M213.35 732.67H217.95M215.65 730.37V734.97" stroke="#000" stroke-width="1.1"/>
<circle cx="272.56" cy="733.47" r="5.3" fill="#02C100" stroke="#000" stroke-width="0.9"/>
<path d="M270.26 732.67H274.87M272.56 730.37V734.97" stroke="#000" stroke-width="1.1"/>
<circle cx="329.47" cy="733.47" r="5.3" fill="#02C100" stroke="#000" stroke-width="0.9"/>
<path d="M327.17 732.67H331.77M329.47 730.37V734.97" stroke="#000" stroke-width="1.1"/>
<circle cx="386.38" cy="733.47" r="5.3" fill="#02C100" stroke="#000" stroke-width="0.9"/>
<path d="M384.08 732.67H388.69M386.38 730.37V734.97" stroke="#000" stroke-width="1.1"/>
<circle cx="443.29" cy="733.47" r="5.3" fill="#02C100" stroke="#000" stroke-width="0.9"/>
<path d="M440.99 732.67H445.59M443.29 730.37V734.97" stroke="#000" stroke-width="1.1"/>
<circle cx="500.20" cy="733.47" r="5.3" fill="#02C100" stroke="#000" stroke-width="0.9"/>
<path d="M497.90 732.67H502.50M500.20 730.37V734.97" stroke="#000" stroke-width="1.1"/>
<circle cx="215.65" cy="752.33" r="5.3" fill="#E2DF07" stroke="#000" stroke-width="0.9"/>
<path d="M213.35 751.53H217.95" stroke="#000" stroke-width="1.1"/>
<circle cx="272.56" cy="752.33" r="5.3" fill="#E2DF07" stroke="#000" stroke-width="0.9"/>
<path d="M270.26 751.53H274.87" stroke="#000" stroke-width="1.1"/>
<circle cx="329.47" cy="752.33" r="5.3" fill="#02C100" stroke="#000" stroke-width="0.9"/>
<path d="M327.17 751.53H331.77M329.47 749.23V753.83" stroke="#000" stroke-width="1.1"/>
<circle cx="386.38" cy="752.33" r="5.3" fill="#E2DF07" stroke="#000" stroke-width="0.9"/>
<path d="M384.08 751.53H388.69" stroke="#000" stroke-width="1.1"/>
<circle cx="443.29" cy="752.33" r="5.3" fill="#02C100" stroke="#000" stroke-width="0.9"/>
<path d="M440.99 751.53H445.59M443.29 749.23V753.83" stroke="#000" stroke-width="1.1"/>
<circle cx="500.20" cy="752.33" r="5.3" fill="#E2DF07" stroke="#000" stroke-width="0.9"/>
<path d="M497.90 751.53H502.50" stroke="#000" stroke-width="1.1"/>
<circle cx="215.65" cy="771.19" r="5.3" fill="#E2DF07" stroke="#000" stroke-width="0.9"/>
<path d="M213.35 770.39H217.95" stroke="#000" stroke-width="1.1"/>
<circle cx="272.56" cy="771.19" r="5.3" fill="#E2DF07" stroke="#000" stroke-width="0.9"/>
<path d="M270.26 770.39H274.87" stroke="#000" stroke-width="1.1"/>
<circle cx="329.47" cy="771.19" r="5.3" fill="#02C100" stroke="#000" stroke-width="0.9"/>
<path d="M327.17 770.39H331.77M329.47 768.09V772.69" stroke="#000" stroke-width="1.1"/>
<circle cx="386.38" cy="771.19" r="5.3" fill="#E2DF07" stroke="#000" stroke-width="0.9"/>
<path d="M384.08 770.39H388.69" stroke="#000" stroke-width="1.1"/>
<circle cx="443.29" cy="771.19" r="5.3" fill="#02C100" stroke="#000" stroke-width="0.9"/>
<path d="M440.99 770.39H445.59M443.29 768.09V772.69" stroke="#000" stroke-width="1.1"/>
<circle cx="500.20" cy="771.19" r="5.3" fill="#E2DF07" stroke="#000" stroke-width="0.9"/>
<path d="M497.90 770.39H502.50" stroke="#000" stroke-width="1.1"/>
<circle cx="215.65" cy="790.04" r="5.3" fill="#02C100" stroke="#000" stroke-width="0.9"/>
<path d="M213.35 789.24H217.95M215.65 786.94V791.54" stroke="#000" stroke-width="1.1"/>
<circle cx="272.56" cy="790.04" r="5.3" fill="#02C100" stroke="#000" stroke-width="0.9"/>
<path d="M270.26 789.24H274.87M272.56 786.94V791.54" stroke="#000" stroke-width="1.1"/>
<circle cx="329.47" cy="790.04" r="5.3" fill="#02C100" stroke="#000" stroke-width="0.9"/>
<path d="M327.17 789.24H331.77M329.47 786.94V791.54" stroke="#000" stroke-width="1.1"/>
<circle cx="386.38" cy="790.04" r="5.3" fill="#02C100" stroke="#000" stroke-width="0.9"/>
<path d="M384.08 789.24H388.69M386.38 786.94V791.54" stroke="#000" stroke-width="1.1"/>
<circle cx="443.29" cy="790.04" r="5.3" fill="#02C100" stroke="#000" stroke-width="0.9"/>
<path d="M440.99 789.24H445.59M443.29 786.94V791.54" stroke="#000" stroke-width="1.1"/>
<circle cx="500.20" cy="790.04" r="5.3" fill="#02C100" stroke="#000" stroke-width="0.9"/>
<path d="M497.90 789.24H502.50M500.20 786.94V791.54" stroke="#000" stroke-width="1.1"/>
<circle cx="215.65" cy="808.90" r="5.3" fill="#E2DF07" stroke="#000" stroke-width="0.9"/>
<path d="M213.35 808.10H217.95" stroke="#000" stroke-width="1.1"/>
<circle cx="272.56" cy="808.90" r="5.3" fill="#E2DF07" stroke="#000" stroke-width="0.9"/>
<path d="M270.26 808.10H274.87" stroke="#000" stroke-width="1.1"/>
<circle cx="329.47" cy="808.90" r="5.3" fill="#02C100" stroke="#000" stroke-width="0.9"/>
<path d="M327.17 808.10H331.77M329.47 805.80V810.40" stroke="#000" stroke-width="1.1"/>
<circle cx="386.38" cy="808.90" r="5.3" fill="#02C100" stroke="#000" stroke-width="0.9"/>
<path d="M384.08 808.10H388.69M386.38 805.80V810.40" stroke="#000" stroke-width="1.1"/>
<circle cx="443.29" cy="808.90" r="5.3" fill="#E2DF07" stroke="#000" stroke-width="0.9"/>
<path d="M440.99 808.10H445.59" stroke="#000" stroke-width="1.1"/>
<circle cx="500.20" cy="808.90" r="5.3" fill="#E2DF07" stroke="#000" stroke-width="0.9"/>
<path d="M497.90 808.10H502.50" stroke="#000" stroke-width="1.1"/>
<circle cx="215.65" cy="827.76" r="5.3" fill="#E2DF07" stroke="#000" stroke-width="0.9"/>
<path d="M213.35 826.96H217.95" stroke="#000" stroke-width="1.1"/>
<circle cx="272.56" cy="827.76" r="5.3" fill="#BF0000" stroke="#000" stroke-width="0.9"/>
<path d="M270.38 824.67L274.75 829.96M274.75 824.67L270.38 829.96" stroke="#000" stroke-width="1.23"/>
<circle cx="329.47" cy="827.76" r="5.3" fill="#02C100" stroke="#000" stroke-width="0.9"/>
<path d="M327.17 826.96H331.77M329.47 824.66V829.26" stroke="#000" stroke-width="1.1"/>
<circle cx="386.38" cy="827.76" r="5.3" fill="#BF0000" stroke="#000" stroke-width="0.9"/>
<path d="M384.20 824.67L388.57 829.96M388.57 824.67L384.20 829.96" stroke="#000" stroke-width="1.23"/>
<circle cx="443.29" cy="827.76" r="5.3" fill="#E2DF07" stroke="#000" stroke-width="0.9"/>
<path d="M440.99 826.96H445.59" stroke="#000" stroke-width="1.1"/>
<circle cx="500.20" cy="827.76" r="5.3" fill="#BF0000" stroke="#000" stroke-width="0.9"/>
<path d="M498.02 824.67L502.39 829.96M502.39 824.67L498.02 829.96" stroke="#000" stroke-width="1.23"/>
<circle cx="215.65" cy="846.62" r="5.3" fill="#E2DF07" stroke="#000" stroke-width="0.9"/>
<path d="M213.35 845.82H217.95" stroke="#000" stroke-width="1.1"/>
<circle cx="272.56" cy="846.62" r="5.3" fill="#E2DF07" stroke="#000" stroke-width="0.9"/>
<path d="M270.26 845.82H274.87" stroke="#000" stroke-width="1.1"/>
<circle cx="329.47" cy="846.62" r="5.3" fill="#BF0000" stroke="#000" stroke-width="0.9"/>
<path d="M327.29 843.53L331.66 848.82M331.66 843.53L327.29 848.82" stroke="#000" stroke-width="1.23"/>
<circle cx="386.38" cy="846.62" r="5.3" fill="#E2DF07" stroke="#000" stroke-width="0.9"/>
<path d="M384.08 845.82H388.69" stroke="#000" stroke-width="1.1"/>
<circle cx="443.29" cy="846.62" r="5.3" fill="#E2DF07" stroke="#000" stroke-width="0.9"/>
<path d="M440.99 845.82H445.59" stroke="#000" stroke-width="1.1"/>
<circle cx="500.20" cy="846.62" r="5.3" fill="#BF0000" stroke="#000" stroke-width="0.9"/>
<path d="M498.02 843.53L502.39 848.82M502.39 843.53L498.02 848.82" stroke="#000" stroke-width="1.23"/>
<text transform="translate(166.9 582.2) rotate(-90)" font-family="Liberation Sans, sans-serif" font-size="10" fill="#000" stroke="#000" stroke-width="0.3" text-anchor="middle">Study</text>
<text x="192.6" y="866.40" font-family="Liberation Sans, sans-serif" font-size="9" fill="#000" stroke="#000" stroke-width="0.3">Domains:</text>
<text x="192.6" y="876.16" font-family="Liberation Sans, sans-serif" font-size="9" fill="#000" stroke="#000" stroke-width="0.3">D1: Bias due to randomisation.</text>
<text x="192.6" y="885.92" font-family="Liberation Sans, sans-serif" font-size="9" fill="#000" stroke="#000" stroke-width="0.3">D2: Bias due to deviations from intended intervention.</text>
<text x="192.6" y="895.68" font-family="Liberation Sans, sans-serif" font-size="9" fill="#000" stroke="#000" stroke-width="0.3">D3: Bias due to missing data.</text>
<text x="192.6" y="905.44" font-family="Liberation Sans, sans-serif" font-size="9" fill="#000" stroke="#000" stroke-width="0.3">D4: Bias due to outcome measurement.</text>
<text x="192.6" y="915.20" font-family="Liberation Sans, sans-serif" font-size="9" fill="#000" stroke="#000" stroke-width="0.3">D5: Bias due to selection of reported result.</text>
<text x="453.1" y="867.0" font-family="Liberation Sans, sans-serif" font-size="8" fill="#000" stroke="#000" stroke-width="0.3">Judgement</text>
<circle cx="460.65" cy="880.00" r="6.6" fill="#BF0000"/>
<path d="M458.18 876.56L463.12 882.54M463.12 876.56L458.18 882.54" stroke="#000" stroke-width="1.79"/>
<text x="472.9" y="883.10" font-family="Liberation Sans, sans-serif" font-size="8" fill="#000" stroke="#000" stroke-width="0.3">High</text>
<circle cx="460.65" cy="895.60" r="6.6" fill="#E2DF07"/>
<path d="M458.05 894.80H463.25" stroke="#000" stroke-width="1.6"/>
<text x="472.9" y="898.70" font-family="Liberation Sans, sans-serif" font-size="8" fill="#000" stroke="#000" stroke-width="0.3">Some concerns</text>
<circle cx="460.65" cy="911.20" r="6.6" fill="#02C100"/>
<path d="M458.05 910.40H463.25M460.65 907.80V913.00" stroke="#000" stroke-width="1.6"/>
<text x="472.9" y="914.30" font-family="Liberation Sans, sans-serif" font-size="8" fill="#000" stroke="#000" stroke-width="0.3">Low</text></svg>
</body></html>
